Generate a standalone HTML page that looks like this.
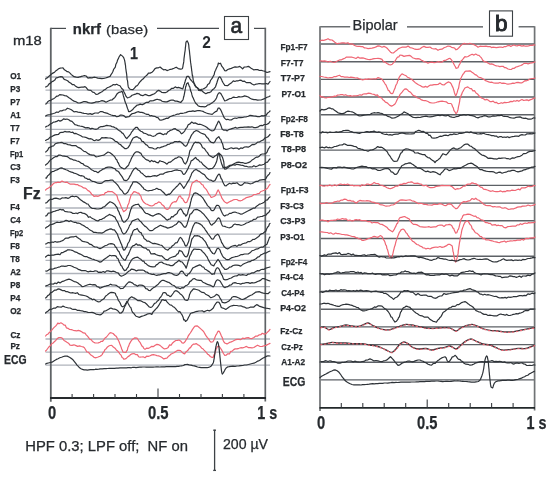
<!DOCTYPE html><html><head><meta charset="utf-8"><title>EEG</title><style>html,body{margin:0;padding:0;background:#fff}svg{display:block}text{font-family:"Liberation Sans",Arial,sans-serif;fill:#262a2e;stroke:#262a2e;stroke-width:0.25px}</style></head><body>
<svg width="550" height="480" viewBox="0 0 550 480">
<rect width="550" height="480" fill="#fff"/>
<g stroke="#afb3bb" stroke-width="1.3">
<line x1="45.5" y1="77.0" x2="270" y2="77.0"/>
<line x1="45.5" y1="90.1" x2="270" y2="90.1"/>
<line x1="45.5" y1="103.2" x2="270" y2="103.2"/>
<line x1="45.5" y1="116.3" x2="270" y2="116.3"/>
<line x1="45.5" y1="129.4" x2="270" y2="129.4"/>
<line x1="45.5" y1="142.5" x2="270" y2="142.5"/>
<line x1="45.5" y1="155.6" x2="270" y2="155.6"/>
<line x1="45.5" y1="168.7" x2="270" y2="168.7"/>
<line x1="45.5" y1="181.8" x2="270" y2="181.8"/>
<line x1="45.5" y1="194.9" x2="270" y2="194.9"/>
<line x1="45.5" y1="208.0" x2="270" y2="208.0"/>
<line x1="45.5" y1="221.1" x2="270" y2="221.1"/>
<line x1="45.5" y1="234.2" x2="270" y2="234.2"/>
<line x1="45.5" y1="247.3" x2="270" y2="247.3"/>
<line x1="45.5" y1="260.4" x2="270" y2="260.4"/>
<line x1="45.5" y1="273.5" x2="270" y2="273.5"/>
<line x1="45.5" y1="286.6" x2="270" y2="286.6"/>
<line x1="45.5" y1="299.7" x2="270" y2="299.7"/>
<line x1="45.5" y1="312.8" x2="270" y2="312.8"/>
<line x1="45.5" y1="339.0" x2="270" y2="339.0"/>
<line x1="45.5" y1="352.1" x2="270" y2="352.1"/>
<line x1="45.5" y1="365.2" x2="270" y2="365.2"/>
</g>
<g fill="none" stroke-linecap="butt">
<polyline points="66,28.4 50.8,28.4" stroke="#474b4f" stroke-width="1.2"/>
<line x1="157" y1="28.4" x2="219" y2="28.4" stroke="#474b4f" stroke-width="1.2"/>
<line x1="254" y1="28.4" x2="265.6" y2="28.4" stroke="#474b4f" stroke-width="1.2"/>
<line x1="50.8" y1="27.8" x2="50.8" y2="401.7" stroke="#5f6366" stroke-width="1.8"/>
<line x1="265.3" y1="27.8" x2="265.3" y2="401.5" stroke="#5f6366" stroke-width="1.7"/>
<line x1="50" y1="398" x2="266" y2="398" stroke="#262a2d" stroke-width="1.8"/>
<rect x="224.5" y="16.5" width="24" height="23" stroke="#3d4246" stroke-width="1.1"/>
<g stroke="#3a3e42" stroke-width="1.1">
<line x1="72.1" y1="394.0" x2="72.1" y2="398"/>
<line x1="93.6" y1="394.0" x2="93.6" y2="398"/>
<line x1="115.0" y1="394.0" x2="115.0" y2="398"/>
<line x1="136.5" y1="394.0" x2="136.5" y2="398"/>
<line x1="158.0" y1="388.5" x2="158.0" y2="398"/>
<line x1="179.5" y1="394.0" x2="179.5" y2="398"/>
<line x1="201.0" y1="394.0" x2="201.0" y2="398"/>
<line x1="222.4" y1="394.0" x2="222.4" y2="398"/>
<line x1="243.9" y1="394.0" x2="243.9" y2="398"/>
</g></g>
<text x="10.2" y="78.6" font-size="8.2" font-weight="bold">O1</text>
<text x="10.2" y="91.7" font-size="8.2" font-weight="bold">P3</text>
<text x="10.2" y="104.8" font-size="8.2" font-weight="bold">P7</text>
<text x="10.2" y="117.9" font-size="8.2" font-weight="bold">A1</text>
<text x="10.2" y="131.0" font-size="8.2" font-weight="bold">T7</text>
<text x="10.2" y="144.1" font-size="8.2" font-weight="bold">F7</text>
<text x="9.9" y="157.2" font-size="8.2" font-weight="bold" textLength="13.4" lengthAdjust="spacingAndGlyphs">Fp1</text>
<text x="10.2" y="170.3" font-size="8.2" font-weight="bold">C3</text>
<text x="10.2" y="183.4" font-size="8.2" font-weight="bold">F3</text>
<text x="10.2" y="209.6" font-size="8.2" font-weight="bold">F4</text>
<text x="10.2" y="222.7" font-size="8.2" font-weight="bold">C4</text>
<text x="9.9" y="235.8" font-size="8.2" font-weight="bold" textLength="13.4" lengthAdjust="spacingAndGlyphs">Fp2</text>
<text x="10.2" y="248.9" font-size="8.2" font-weight="bold">F8</text>
<text x="10.2" y="262.0" font-size="8.2" font-weight="bold">T8</text>
<text x="10.2" y="275.1" font-size="8.2" font-weight="bold">A2</text>
<text x="10.2" y="288.2" font-size="8.2" font-weight="bold">P8</text>
<text x="10.2" y="301.3" font-size="8.2" font-weight="bold">P4</text>
<text x="10.2" y="314.4" font-size="8.2" font-weight="bold">O2</text>
<text x="23" y="198.8" font-size="16" font-weight="bold" textLength="17.6" lengthAdjust="spacingAndGlyphs">Fz</text>
<text x="10.4" y="337.8" font-size="8.2" font-weight="bold">Cz</text>
<text x="10.4" y="349" font-size="8.2" font-weight="bold">Pz</text>
<text x="4.1" y="364.2" font-size="12.4" font-weight="bold" textLength="22.6" lengthAdjust="spacingAndGlyphs">ECG</text>
<text x="13" y="45.3" font-size="12.3" style="stroke-width:0.3px" textLength="28.8" lengthAdjust="spacingAndGlyphs">m18</text>
<text x="72.8" y="33.8" font-size="13.9" font-weight="bold" textLength="28.2" lengthAdjust="spacingAndGlyphs">nkrf</text>
<text x="106.1" y="33.7" font-size="13.6" textLength="42" lengthAdjust="spacingAndGlyphs">(base)</text>
<text x="230.4" y="33" font-size="22.5" style="stroke-width:0.7px" textLength="11.6" lengthAdjust="spacingAndGlyphs">a</text>
<text x="130" y="58.7" font-size="16.2" font-weight="bold" textLength="8" lengthAdjust="spacingAndGlyphs">1</text>
<text x="202.2" y="47.5" font-size="16" font-weight="bold" style="stroke-width:0" textLength="8.6" lengthAdjust="spacingAndGlyphs">2</text>
<text x="47.9" y="419.2" font-size="18" font-weight="bold" textLength="8.2" lengthAdjust="spacingAndGlyphs">0</text>
<text x="147.9" y="419.2" font-size="18" font-weight="bold" textLength="20.6" lengthAdjust="spacingAndGlyphs">0.5</text>
<text x="257.2" y="419.3" font-size="18" font-weight="bold" textLength="20" lengthAdjust="spacingAndGlyphs">1 s</text>
<text x="25.3" y="451" font-size="13.8" textLength="162.6" lengthAdjust="spacingAndGlyphs" xml:space="preserve">HPF 0.3; LPF off;  NF on</text>
<text x="223" y="449.2" font-size="14" textLength="45" lengthAdjust="spacingAndGlyphs">200 µV</text>
<g stroke="#3d4246" stroke-width="1.3"><line x1="214.6" y1="429.8" x2="214.6" y2="470.8"/><line x1="213.2" y1="430.2" x2="216" y2="430.2"/><line x1="213.2" y1="470.4" x2="216" y2="470.4"/></g>
<path d="M45.6 79.0 L46.4 78.2 L47.6 77.6 L49.0 76.2 L50.5 75.0 L52.0 73.6 L53.3 72.9 L54.6 72.2 L56.0 70.7 L57.4 69.8 L58.8 68.6 L60.0 68.2 L61.6 68.0 L63.0 67.9 L64.4 69.8 L66.0 70.8 L67.2 71.7 L68.6 71.9 L70.0 73.1 L71.4 74.6 L72.8 75.7 L74.0 76.7 L76.2 77.2 L78.2 77.4 L80.0 76.8 L82.3 76.2 L84.4 75.5 L86.1 76.0 L88.0 78.1 L89.8 77.7 L91.9 77.9 L94.0 77.2 L95.9 77.5 L97.8 78.1 L100.0 78.4 L101.7 78.6 L103.6 78.5 L105.5 78.0 L107.4 77.4 L109.0 76.8 L110.1 76.4 L111.2 74.3 L112.1 73.1 L112.9 71.5 L113.7 69.2 L114.4 68.4 L115.3 67.1 L115.9 64.2 L116.5 63.3 L117.0 62.0 L117.7 59.8 L118.4 58.6 L119.0 57.0 L120.6 54.6 L122.5 56.1 L123.5 57.3 L124.5 59.9 L124.8 61.3 L125.0 62.4 L125.2 64.0 L125.5 65.3 L125.7 68.0 L126.0 69.8 L126.2 71.3 L126.4 72.7 L126.7 74.7 L126.9 76.8 L127.1 79.4 L127.4 80.1 L127.7 82.1 L127.9 84.5 L128.2 86.4 L128.4 87.2 L129.6 89.0 L130.8 89.3 L133.0 89.6 L134.4 88.1 L136.2 86.0 L137.2 85.6 L138.3 84.3 L139.5 82.4 L140.8 81.0 L142.0 79.7 L143.3 78.8 L144.6 77.1 L146.0 75.9 L147.3 74.8 L148.4 73.1 L150.2 73.1 L152.0 72.2 L153.4 70.9 L155.0 68.6 L156.7 67.9 L158.4 67.8 L160.1 67.0 L161.8 68.5 L163.6 69.8 L165.3 69.5 L167.0 70.6 L168.7 70.0 L170.3 69.3 L171.8 69.1 L174.0 68.2 L176.2 67.2 L178.2 68.6 L180.3 69.2 L182.0 68.8 L182.5 68.4 L182.9 66.6 L183.2 64.5 L183.5 63.3 L183.8 61.4 L184.0 58.6 L184.3 56.3 L184.5 54.9 L184.7 53.2 L185.0 51.3 L185.2 50.0 L185.4 47.2 L185.6 46.3 L185.8 43.8 L185.9 42.6 L186.1 42.0 L187.1 40.8 L188.4 43.3 L188.6 44.3 L188.8 45.5 L188.9 47.1 L189.1 49.0 L189.4 50.6 L189.6 52.7 L189.8 54.7 L190.0 56.4 L190.2 58.6 L190.4 60.2 L190.6 62.4 L190.8 63.5 L191.0 65.0 L191.2 66.7 L191.5 68.6 L191.7 70.6 L191.9 71.7 L192.1 73.5 L192.3 75.4 L192.5 75.0 L192.9 77.7 L193.2 80.0 L193.5 81.5 L194.0 82.8 L194.5 83.8 L195.5 85.9 L196.6 87.3 L197.8 88.3 L198.7 90.4 L200.0 90.1 L201.3 89.4 L203.0 89.0 L204.9 88.1 L206.7 86.7 L207.7 84.5 L208.6 84.0 L209.6 83.0 L210.5 80.5 L211.5 79.2 L212.4 77.9 L213.3 76.1 L214.1 74.8 L214.8 71.7 L215.6 70.3 L216.3 68.4 L217.0 67.0 L217.7 65.7 L218.4 63.0 L219.0 63.7 L220.5 63.2 L221.9 66.4 L223.0 67.6 L224.8 70.7 L226.1 70.8 L227.8 69.5 L229.5 68.9 L231.3 68.4 L233.2 67.5 L235.0 66.9 L236.7 67.2 L238.4 66.9 L239.8 66.4 L242.6 68.8 L244.3 67.0 L246.3 67.0 L248.3 66.4 L249.7 67.1 L251.1 68.2 L252.5 69.1 L253.9 69.9 L255.8 69.5 L257.7 69.6 L259.5 70.5 L261.2 70.3 L262.8 70.8 L264.2 71.0 L267.0 72.5 L270.0 71.6" fill="none" stroke="#2e3338" stroke-width="1.2" stroke-linejoin="round" stroke-linecap="round"/>
<path d="M45.6 87.0 L46.5 86.6 L47.7 85.9 L49.1 83.9 L50.6 83.1 L52.0 81.6 L53.4 81.1 L54.8 80.1 L56.2 77.8 L57.6 77.7 L59.0 77.0 L60.7 76.7 L62.4 76.9 L64.2 79.4 L66.0 80.0 L67.6 80.7 L69.2 82.2 L70.9 83.3 L72.5 84.7 L74.0 84.6 L75.7 86.3 L77.2 87.1 L78.6 87.6 L80.0 87.3 L81.8 87.0 L83.5 87.1 L85.0 86.6 L86.4 87.8 L88.0 89.9 L89.3 90.2 L90.9 90.4 L92.6 92.1 L94.0 92.3 L96.0 94.3 L98.0 94.1 L99.4 93.1 L100.9 92.3 L102.5 91.4 L104.0 90.0 L105.5 89.4 L107.1 87.8 L108.6 87.2 L110.0 86.6 L111.7 85.8 L113.4 84.5 L115.0 84.9 L116.7 84.2 L118.5 85.2 L120.0 85.8 L121.7 88.5 L123.0 89.5 L124.0 92.0 L125.0 93.9 L126.1 96.4 L127.4 97.8 L128.7 97.5 L130.5 96.7 L132.0 95.3 L133.7 94.7 L135.5 94.2 L137.0 93.4 L139.0 93.8 L140.7 95.2 L142.8 95.7 L145.0 94.4 L146.6 94.9 L148.4 95.7 L150.0 95.6 L152.2 94.6 L154.4 93.8 L155.8 92.6 L157.1 91.1 L158.7 90.4 L160.2 91.1 L161.9 92.5 L163.6 92.6 L165.3 92.7 L166.9 92.0 L168.6 90.5 L170.2 89.7 L171.8 88.3 L173.5 88.3 L175.2 86.9 L176.9 87.8 L178.4 87.4 L180.7 88.1 L182.7 89.0 L183.2 87.6 L183.8 85.3 L184.4 83.9 L184.9 82.3 L185.5 80.0 L186.0 78.7 L186.5 77.2 L187.0 76.3 L188.6 76.4 L190.4 79.5 L191.4 80.5 L192.5 82.0 L193.6 82.7 L194.8 85.4 L195.8 86.9 L197.3 87.8 L198.7 88.9 L200.0 90.7 L201.7 90.5 L203.5 92.2 L205.8 93.7 L208.0 92.6 L209.5 92.6 L211.0 91.7 L212.4 89.8 L214.0 88.7 L215.5 86.8 L216.2 84.7 L216.8 83.0 L217.4 81.0 L218.0 79.3 L218.7 77.6 L219.4 76.9 L220.2 77.1 L221.2 78.7 L222.2 81.1 L223.1 82.8 L224.0 84.2 L224.8 85.3 L227.6 85.7 L229.3 84.3 L231.2 83.1 L233.3 80.9 L234.9 81.5 L236.6 80.8 L238.3 80.8 L239.8 80.2 L241.5 80.4 L242.9 81.4 L244.5 81.2 L246.3 82.6 L248.1 82.6 L250.0 82.5 L252.0 84.0 L254.0 85.0 L255.8 84.2 L257.7 83.9 L259.5 83.5 L261.8 83.8 L264.2 83.9 L266.3 83.5 L268.0 84.2 L270.0 81.5" fill="none" stroke="#2e3338" stroke-width="1.2" stroke-linejoin="round" stroke-linecap="round"/>
<path d="M45.6 104.0 L46.5 103.7 L47.7 101.8 L49.2 100.6 L50.6 100.6 L52.0 99.4 L53.6 98.8 L55.1 97.6 L56.6 96.2 L58.0 96.1 L59.7 94.6 L61.4 94.8 L63.0 95.0 L64.6 95.6 L66.3 95.8 L68.0 97.0 L69.4 98.1 L70.9 99.1 L72.5 100.3 L74.0 101.1 L76.0 101.8 L78.1 103.0 L80.0 103.0 L81.7 102.4 L83.4 101.7 L85.0 101.6 L86.6 101.9 L88.3 102.6 L90.0 103.0 L91.9 103.1 L94.0 102.7 L96.0 101.9 L98.1 101.9 L100.1 101.3 L102.0 100.6 L104.0 101.1 L106.0 102.2 L107.9 101.3 L110.1 100.2 L112.0 100.0 L113.5 98.5 L114.7 97.7 L116.0 95.6 L117.4 93.4 L118.8 92.4 L120.0 92.2 L122.0 91.4 L122.4 92.0 L122.9 93.7 L123.4 95.9 L124.0 97.8 L124.5 99.5 L125.0 101.6 L125.6 103.0 L126.3 104.5 L126.9 106.5 L127.5 108.4 L128.0 109.4 L128.6 111.6 L129.4 111.6 L130.8 111.1 L132.5 109.8 L134.0 107.9 L135.3 106.8 L137.0 105.2 L138.5 104.9 L140.3 104.1 L142.2 104.8 L144.0 103.9 L145.5 102.8 L146.9 102.2 L148.3 102.5 L150.0 100.9 L151.6 100.9 L153.4 100.6 L155.2 99.9 L157.1 99.2 L158.7 99.7 L160.5 100.1 L162.1 101.2 L163.7 101.7 L165.3 101.8 L166.9 101.9 L168.6 101.1 L170.2 100.4 L171.8 100.0 L173.5 100.2 L175.2 101.1 L176.9 101.1 L178.4 101.6 L180.7 102.5 L182.7 100.1 L183.1 99.5 L183.5 97.5 L183.9 96.3 L184.2 94.9 L184.6 92.9 L185.0 90.7 L185.4 88.7 L185.7 86.5 L186.1 86.1 L186.4 84.4 L186.7 83.7 L188.0 82.7 L189.3 86.4 L189.8 87.0 L190.3 89.5 L190.8 91.4 L191.3 92.1 L191.9 94.7 L192.5 96.8 L193.0 97.6 L193.6 98.9 L194.6 101.3 L195.7 103.2 L196.8 104.2 L198.0 105.7 L199.5 106.4 L201.1 106.7 L202.8 106.7 L204.5 106.8 L206.2 106.3 L207.9 104.9 L209.5 104.6 L211.0 103.6 L212.7 102.4 L214.1 101.3 L215.5 99.6 L216.5 98.0 L217.5 95.0 L218.5 93.2 L219.4 92.7 L220.7 93.4 L221.9 95.5 L223.0 97.5 L223.8 99.2 L224.8 100.9 L226.1 100.5 L227.8 99.6 L229.5 98.7 L231.3 98.5 L233.1 97.1 L235.0 97.4 L236.9 97.5 L238.9 96.6 L240.8 97.0 L242.7 96.7 L244.5 95.9 L246.4 96.4 L248.3 97.0 L250.1 98.3 L252.0 99.2 L253.9 99.6 L255.7 99.7 L257.6 100.1 L259.6 100.0 L261.5 99.8 L263.3 99.1 L265.3 98.2 L267.0 97.3 L268.7 96.7 L270.0 96.0" fill="none" stroke="#2e3338" stroke-width="1.2" stroke-linejoin="round" stroke-linecap="round"/>
<path d="M45.6 116.0 L46.7 115.4 L48.3 114.8 L50.1 114.6 L52.0 113.8 L53.5 113.5 L55.0 113.0 L56.7 112.0 L58.3 112.4 L60.0 110.9 L61.8 110.9 L63.7 110.0 L65.6 109.9 L67.4 108.2 L69.0 108.7 L70.9 109.5 L72.4 110.5 L74.0 111.9 L75.9 111.5 L78.0 112.1 L80.0 112.3 L82.0 112.9 L84.0 113.3 L86.0 113.5 L88.1 114.1 L90.2 113.6 L92.0 114.4 L95.0 113.0 L96.5 113.0 L98.3 113.1 L100.2 111.6 L102.0 111.5 L103.9 112.4 L105.6 112.8 L107.7 113.4 L109.3 114.3 L111.2 115.0 L113.2 115.6 L115.0 115.5 L116.6 116.7 L118.6 116.4 L120.1 115.2 L121.7 115.1 L123.6 115.5 L125.6 117.3 L127.5 116.9 L129.1 116.7 L130.5 115.0 L132.0 113.7 L133.6 113.4 L135.2 112.9 L137.0 112.0 L138.5 111.7 L140.2 112.4 L141.9 112.4 L143.4 112.8 L145.2 113.8 L146.8 114.4 L148.5 114.4 L150.0 115.9 L151.6 115.5 L153.2 116.2 L154.8 116.3 L156.4 117.3 L158.0 117.6 L159.6 119.8 L161.0 120.2 L163.0 119.6 L165.0 118.9 L166.5 118.2 L168.1 118.3 L169.9 116.7 L171.8 116.0 L173.4 115.4 L175.1 115.0 L176.9 114.2 L178.7 114.2 L180.5 113.3 L182.3 113.3 L184.0 113.0 L185.8 112.6 L187.5 111.9 L189.3 111.3 L191.1 111.3 L192.9 110.8 L194.7 111.3 L196.4 110.8 L198.0 110.5 L199.8 110.6 L201.4 111.0 L203.0 111.4 L204.5 112.2 L206.4 113.0 L208.3 113.7 L210.0 114.0 L212.2 114.4 L214.4 112.4 L215.6 111.6 L216.9 111.1 L218.2 108.1 L219.4 108.2 L220.4 109.4 L221.4 111.3 L222.3 113.5 L223.0 114.9 L223.8 117.1 L224.8 118.4 L226.1 119.6 L227.8 119.3 L229.5 120.0 L231.3 119.9 L233.1 118.7 L235.0 118.0 L236.9 118.3 L238.9 117.5 L240.8 117.7 L242.7 117.5 L244.5 117.0 L246.4 116.8 L248.3 116.2 L250.1 115.3 L252.0 115.6 L253.9 116.0 L255.7 116.1 L257.6 116.6 L259.6 116.7 L261.6 115.7 L263.3 115.8 L266.0 115.4 L267.4 113.3 L268.9 112.1 L270.0 111.0" fill="none" stroke="#2e3338" stroke-width="1.2" stroke-linejoin="round" stroke-linecap="round"/>
<path d="M45.6 127.0 L46.7 126.2 L48.3 125.7 L50.1 124.1 L52.0 123.3 L53.5 122.1 L55.1 121.9 L56.8 121.4 L58.4 120.3 L60.0 121.1 L61.9 120.4 L63.7 118.8 L65.4 119.3 L67.0 119.0 L68.8 119.8 L70.3 120.9 L72.0 121.4 L73.4 122.9 L74.9 124.7 L76.5 125.0 L78.0 125.6 L79.9 126.0 L81.9 126.3 L84.0 127.1 L85.6 127.9 L87.3 127.7 L89.1 127.9 L90.7 129.0 L92.0 128.2 L95.0 129.2 L96.2 129.3 L97.7 128.7 L99.3 127.3 L101.0 126.6 L102.6 126.6 L104.5 126.2 L106.4 125.4 L108.4 125.7 L110.3 125.8 L111.9 126.6 L113.5 126.9 L115.1 127.7 L116.6 128.4 L118.0 129.7 L119.5 130.9 L120.7 131.3 L121.9 132.9 L123.0 133.4 L124.4 135.5 L125.6 137.5 L126.8 138.6 L128.0 137.2 L129.2 135.8 L130.6 134.1 L131.5 132.2 L132.5 131.2 L133.6 129.4 L134.7 128.5 L135.7 127.3 L137.3 127.4 L138.9 129.7 L140.8 131.3 L142.2 131.8 L143.8 133.2 L145.5 133.5 L147.1 134.2 L148.5 135.2 L150.4 135.2 L151.9 136.0 L153.5 136.3 L155.1 135.8 L156.8 134.1 L158.6 133.4 L160.1 133.1 L161.7 133.9 L163.3 134.7 L165.0 133.7 L166.3 134.3 L167.7 132.1 L169.1 131.2 L170.4 130.3 L171.8 130.0 L173.5 128.9 L175.3 128.7 L176.9 130.1 L178.4 130.6 L180.0 131.7 L181.3 133.8 L182.7 133.1 L183.7 132.1 L184.8 130.8 L185.9 128.6 L187.1 127.3 L188.2 124.8 L190.0 123.9 L191.7 122.0 L193.6 123.3 L195.1 122.9 L196.7 123.6 L198.4 124.5 L200.0 124.2 L201.7 124.8 L203.3 125.5 L205.0 126.3 L206.7 127.3 L208.4 128.8 L210.1 129.9 L211.7 130.8 L213.3 130.6 L214.3 130.0 L215.3 128.1 L216.2 125.8 L217.1 124.1 L217.9 122.2 L218.7 121.1 L219.7 122.8 L220.5 124.5 L221.2 126.4 L222.0 128.9 L223.8 130.2 L225.8 130.0 L227.2 130.9 L228.7 129.6 L230.4 129.1 L231.9 128.6 L233.6 128.2 L235.4 127.4 L237.0 128.2 L238.9 127.6 L240.8 127.3 L242.6 127.4 L244.5 127.1 L246.4 127.2 L248.3 126.8 L250.2 127.2 L252.0 126.8 L253.9 127.6 L255.8 127.6 L257.7 127.2 L259.5 125.9 L261.2 125.4 L262.8 125.6 L264.2 124.5 L267.0 124.3 L268.7 123.4 L270.0 121.5" fill="none" stroke="#2e3338" stroke-width="1.2" stroke-linejoin="round" stroke-linecap="round"/>
<path d="M45.6 140.4 L46.7 139.7 L48.3 139.1 L50.1 137.2 L52.0 136.5 L53.5 135.6 L55.1 134.9 L56.7 134.6 L58.4 134.5 L60.0 132.7 L61.6 132.3 L63.2 132.3 L64.8 131.4 L66.4 131.8 L68.0 131.8 L69.6 131.7 L71.2 132.5 L72.8 132.2 L74.4 133.7 L76.0 133.4 L77.6 134.3 L79.2 135.0 L80.8 135.7 L82.4 136.8 L84.0 137.0 L85.7 137.3 L87.4 138.1 L89.2 138.9 L90.7 138.7 L92.0 139.1 L93.7 140.5 L95.0 140.6 L96.4 139.7 L98.1 140.4 L100.0 139.6 L101.8 137.6 L103.8 137.9 L105.8 137.7 L107.7 137.9 L109.4 138.0 L110.9 138.2 L112.4 138.7 L114.0 140.0 L115.3 141.3 L116.6 141.5 L117.9 142.7 L119.2 144.2 L120.5 144.5 L122.0 146.3 L123.6 147.5 L125.0 148.7 L126.2 148.7 L127.9 147.8 L129.4 145.7 L130.1 144.3 L130.9 142.3 L131.7 140.6 L132.5 139.1 L133.2 138.0 L135.7 136.9 L137.0 136.6 L138.5 137.8 L140.2 138.3 L142.0 141.4 L143.2 141.5 L144.5 143.1 L145.8 144.6 L147.2 145.2 L148.5 147.0 L149.7 147.7 L151.9 147.8 L153.9 148.8 L156.0 149.0 L157.7 147.5 L159.5 148.0 L161.3 147.1 L163.0 146.6 L164.6 146.0 L166.1 145.6 L167.7 144.4 L169.6 144.1 L171.1 143.1 L172.8 142.9 L174.5 141.7 L176.3 141.5 L177.9 141.9 L179.4 141.4 L181.2 142.2 L182.8 143.7 L184.3 145.5 L185.6 146.3 L186.6 145.8 L187.5 144.0 L188.4 142.0 L189.2 139.7 L190.0 138.5 L191.0 136.1 L192.0 134.3 L192.9 133.4 L193.8 131.9 L196.2 130.5 L198.0 131.1 L200.0 132.4 L201.5 133.3 L203.2 133.9 L205.0 134.5 L206.0 136.2 L207.1 137.5 L208.3 138.5 L209.4 140.7 L210.4 141.5 L211.2 142.4 L213.8 142.8 L214.9 141.7 L216.2 139.0 L217.5 137.7 L218.8 136.6 L219.8 138.6 L220.8 139.4 L221.7 142.3 L222.5 143.5 L223.2 146.3 L223.7 148.9 L224.4 148.5 L225.8 149.5 L227.6 149.2 L229.3 148.5 L231.3 147.8 L233.3 148.6 L235.2 148.1 L237.0 148.1 L238.9 149.3 L240.8 147.9 L242.6 148.3 L244.5 147.0 L246.3 146.9 L248.2 147.2 L250.0 146.3 L251.4 145.1 L252.9 144.3 L254.3 144.6 L255.8 143.7 L257.7 142.1 L259.7 141.8 L261.4 140.8 L263.4 139.9 L265.0 137.9 L266.6 137.5 L268.0 136.8 L270.0 134.5" fill="none" stroke="#2e3338" stroke-width="1.2" stroke-linejoin="round" stroke-linecap="round"/>
<path d="M45.6 152.0 L46.4 151.4 L47.6 150.3 L49.0 147.6 L50.5 147.2 L52.0 146.2 L53.5 146.0 L55.2 143.8 L56.9 143.2 L58.5 142.8 L60.0 142.7 L62.1 142.4 L64.1 143.7 L66.0 143.7 L68.0 144.6 L70.0 144.9 L72.0 145.7 L74.0 145.7 L76.0 145.7 L78.0 147.4 L79.5 147.9 L81.0 148.7 L82.5 150.1 L84.0 151.4 L85.5 151.6 L87.0 152.8 L88.5 153.9 L90.0 154.6 L92.1 155.1 L94.1 155.2 L96.0 156.9 L98.1 156.5 L100.0 156.0 L102.0 155.5 L104.0 155.1 L106.0 153.4 L108.0 152.0 L110.0 152.7 L112.0 154.2 L113.3 155.4 L114.7 156.8 L116.0 159.2 L116.8 159.8 L117.6 162.1 L118.4 163.0 L119.2 165.0 L120.0 166.5 L121.3 167.6 L122.7 168.3 L124.0 169.0 L125.3 168.7 L126.7 167.0 L128.0 165.8 L128.7 164.9 L129.3 163.1 L130.0 161.7 L130.7 160.2 L131.3 158.6 L132.0 157.3 L133.0 155.6 L134.0 153.8 L135.0 152.7 L136.0 151.9 L138.0 151.8 L140.0 152.9 L141.0 153.4 L141.9 155.2 L142.9 156.8 L144.0 157.6 L145.3 158.9 L146.8 159.9 L148.4 160.4 L150.0 161.8 L151.6 160.4 L153.2 161.6 L154.9 161.2 L156.5 162.4 L158.2 162.9 L159.9 160.7 L161.6 161.5 L163.0 161.7 L165.1 162.8 L167.0 164.2 L168.6 162.4 L170.3 162.2 L172.3 160.6 L173.7 159.6 L175.3 158.3 L177.0 157.8 L178.6 156.8 L180.0 157.0 L181.3 157.7 L182.4 159.0 L183.5 161.9 L184.6 163.5 L185.6 164.0 L186.2 162.7 L186.8 161.9 L187.4 160.5 L187.9 158.5 L188.5 156.9 L189.0 155.2 L189.5 152.4 L190.0 150.5 L190.8 149.7 L191.6 148.2 L192.3 146.4 L193.0 145.1 L193.8 143.5 L195.3 142.1 L196.9 142.6 L198.2 142.4 L199.7 143.0 L201.2 144.6 L202.2 147.0 L203.2 148.0 L204.2 148.4 L205.2 149.7 L206.2 151.3 L207.5 152.6 L208.8 155.0 L210.1 155.9 L211.2 156.5 L213.2 157.6 L215.0 156.0 L216.3 155.3 L217.6 153.9 L218.8 153.0 L221.2 155.1 L221.9 156.2 L222.6 157.8 L223.2 159.7 L223.8 162.0 L224.0 164.1 L224.1 166.3 L224.3 168.0 L224.8 169.2 L226.1 169.0 L227.7 167.8 L229.5 166.6 L230.8 165.2 L232.2 164.8 L233.6 164.0 L235.0 163.2 L236.9 162.4 L238.8 162.2 L240.8 162.6 L242.6 162.5 L244.5 163.3 L246.4 163.3 L248.3 162.6 L250.1 161.9 L252.0 160.1 L253.4 159.3 L254.9 158.1 L256.3 157.2 L257.6 157.2 L259.3 156.2 L260.8 154.5 L262.3 154.0 L264.2 154.0 L266.0 153.3 L267.1 152.1 L268.2 149.2 L269.3 147.6 L270.0 146.5" fill="none" stroke="#2e3338" stroke-width="1.2" stroke-linejoin="round" stroke-linecap="round"/>
<path d="M45.6 165.0 L46.4 164.3 L47.6 163.5 L49.0 161.6 L50.5 159.8 L52.0 158.9 L53.5 157.7 L55.2 156.7 L56.9 156.7 L58.5 155.2 L60.0 155.0 L62.1 155.8 L64.1 156.1 L66.0 156.5 L67.5 156.7 L68.9 157.8 L70.4 158.9 L72.0 159.2 L73.5 160.1 L75.2 160.2 L77.0 161.0 L78.6 161.3 L80.0 162.2 L81.6 163.5 L82.7 163.5 L84.0 165.0 L85.4 165.8 L86.9 166.2 L88.5 167.1 L90.0 168.3 L91.5 169.8 L93.1 170.5 L94.6 171.5 L96.0 171.4 L98.0 172.7 L100.0 171.0 L101.4 170.3 L103.0 169.1 L104.6 168.6 L106.0 167.6 L108.1 167.2 L110.0 167.2 L111.6 167.3 L113.3 168.1 L115.0 168.7 L116.3 170.6 L117.6 171.0 L118.8 171.9 L120.0 173.9 L121.1 175.3 L122.2 176.9 L123.2 178.7 L124.0 180.1 L126.0 180.6 L126.9 180.2 L127.9 179.5 L129.0 177.8 L130.0 175.9 L130.8 174.6 L131.6 172.9 L132.4 171.3 L133.2 170.2 L134.0 169.0 L135.9 167.8 L138.0 170.0 L139.4 170.7 L140.9 172.7 L142.5 173.6 L144.0 175.1 L146.0 176.8 L148.0 176.3 L150.0 176.6 L151.6 176.4 L153.2 175.8 L154.9 175.7 L156.5 176.1 L158.1 175.4 L159.7 174.4 L161.3 174.0 L163.0 174.2 L164.6 173.0 L166.3 172.3 L168.0 171.8 L170.0 171.5 L171.6 171.4 L173.3 170.7 L175.2 170.1 L177.0 169.9 L178.7 170.5 L180.0 170.5 L181.7 171.3 L182.7 173.6 L183.8 174.5 L185.0 173.8 L186.2 171.9 L187.5 169.5 L188.2 168.2 L189.0 166.0 L189.7 165.0 L190.5 162.9 L191.2 160.8 L192.7 160.1 L194.1 158.8 L195.6 157.4 L197.0 159.3 L198.5 160.1 L200.0 162.0 L201.2 162.0 L202.5 164.0 L203.8 165.3 L205.0 166.3 L207.0 167.9 L208.8 169.2 L210.6 168.7 L212.5 168.3 L213.5 167.2 L214.5 166.0 L215.4 164.2 L216.2 162.6 L216.7 161.0 L217.2 159.0 L217.6 156.7 L218.0 155.0 L218.4 154.1 L218.8 153.4 L219.2 153.7 L219.7 155.4 L220.1 158.4 L220.6 159.8 L221.2 162.3 L221.9 164.6 L222.5 166.0 L223.1 167.8 L224.8 167.1 L226.1 167.5 L227.8 166.6 L229.5 165.4 L231.3 165.7 L233.1 164.6 L235.0 165.1 L236.9 164.3 L238.8 164.7 L240.8 165.1 L242.6 165.3 L244.5 166.1 L246.4 166.3 L248.3 167.0 L250.1 166.9 L252.0 167.0 L253.9 165.7 L255.8 166.8 L257.6 166.0 L259.3 164.9 L260.8 165.2 L262.3 164.8 L264.2 164.2 L266.0 162.3 L267.5 162.1 L269.0 160.0 L270.0 159.0" fill="none" stroke="#2e3338" stroke-width="1.2" stroke-linejoin="round" stroke-linecap="round"/>
<path d="M45.6 178.0 L46.4 178.1 L47.6 175.9 L49.0 174.8 L50.5 173.0 L52.0 171.6 L53.5 171.5 L55.2 170.5 L56.9 169.9 L58.5 169.1 L60.0 168.2 L62.1 167.9 L63.9 168.9 L66.0 169.7 L67.5 170.2 L69.1 171.3 L70.7 171.9 L72.4 172.3 L74.0 173.1 L75.6 173.5 L77.3 174.3 L78.9 175.1 L80.5 175.8 L82.0 175.7 L83.6 176.2 L85.1 178.0 L86.5 178.3 L88.0 179.4 L89.5 179.2 L91.0 180.5 L92.5 181.4 L94.0 181.5 L96.0 182.4 L98.0 183.2 L100.0 183.4 L102.0 183.1 L104.1 181.4 L106.0 180.5 L107.7 180.6 L109.4 180.4 L111.0 180.1 L112.7 180.1 L114.3 181.9 L116.0 183.3 L117.0 184.4 L118.0 185.5 L119.1 187.3 L120.1 189.0 L121.0 189.8 L122.4 191.2 L123.7 193.5 L125.0 194.2 L126.3 193.4 L127.7 192.3 L129.0 189.8 L129.8 188.5 L130.6 186.6 L131.5 185.1 L132.3 183.8 L133.0 181.9 L136.0 181.8 L137.4 182.4 L139.0 183.5 L140.6 184.9 L142.0 186.7 L143.1 187.5 L143.8 188.9 L145.0 189.6 L146.4 190.5 L148.2 190.9 L150.0 190.5 L151.8 190.4 L153.5 189.8 L155.1 189.3 L156.8 188.3 L158.6 189.4 L159.9 189.5 L161.3 190.3 L162.7 191.8 L164.1 193.0 L165.4 194.6 L166.6 195.2 L168.1 194.2 L169.5 194.3 L170.8 193.1 L172.3 191.2 L173.5 189.7 L174.9 188.4 L176.3 186.8 L177.7 185.7 L178.9 184.2 L180.0 183.0 L181.5 184.9 L182.6 186.5 L183.8 188.4 L184.7 186.8 L185.7 185.5 L186.8 183.5 L187.8 181.6 L188.8 180.5 L189.6 178.7 L190.3 177.0 L191.1 175.3 L191.8 173.1 L192.5 172.3 L194.3 170.2 L196.2 169.4 L197.8 170.6 L199.5 171.4 L201.2 172.8 L202.9 173.9 L204.6 174.8 L206.2 177.1 L207.5 178.6 L208.8 179.5 L210.1 180.2 L211.2 180.2 L213.2 181.4 L215.0 180.5 L216.0 178.6 L216.9 176.8 L217.9 175.1 L218.8 174.2 L219.6 174.3 L220.4 176.5 L221.1 178.5 L221.9 179.4 L222.8 182.0 L223.7 183.7 L224.8 185.6 L226.2 185.8 L227.8 184.4 L229.5 183.3 L231.3 184.0 L233.1 183.1 L235.0 183.4 L237.0 182.8 L239.0 184.6 L240.8 185.5 L242.6 184.6 L244.5 182.7 L246.2 183.0 L248.1 183.2 L250.0 183.8 L251.9 183.5 L253.8 182.6 L255.8 181.4 L257.7 181.4 L259.7 180.1 L261.4 179.8 L263.2 179.7 L265.0 179.6 L266.0 178.4 L267.1 176.3 L268.3 175.0 L269.3 174.1 L270.0 172.5" fill="none" stroke="#2e3338" stroke-width="1.2" stroke-linejoin="round" stroke-linecap="round"/>
<path d="M45.6 190.0 L46.5 189.1 L47.7 188.4 L49.2 187.5 L50.6 186.4 L52.0 185.2 L53.5 183.5 L55.0 182.7 L56.5 182.6 L58.0 182.1 L60.0 182.5 L62.0 181.1 L64.0 182.0 L65.5 182.3 L67.0 182.1 L68.5 183.2 L70.0 184.1 L72.0 184.0 L74.0 184.1 L76.0 184.6 L77.5 184.6 L79.0 185.7 L80.5 186.0 L82.0 186.8 L83.5 187.9 L85.0 188.1 L86.5 189.1 L88.0 190.6 L89.2 191.1 L90.4 192.4 L91.6 194.2 L92.8 195.0 L94.0 196.4 L96.1 195.9 L98.1 196.3 L100.0 195.4 L102.1 194.7 L104.0 194.7 L105.3 192.6 L106.7 192.4 L108.0 191.3 L110.0 191.7 L112.0 191.6 L114.0 192.9 L116.0 194.6 L116.7 195.2 L117.3 196.8 L118.0 199.6 L118.7 200.7 L119.4 202.3 L120.0 203.8 L121.0 206.3 L121.9 208.3 L122.8 210.0 L123.6 211.7 L126.0 209.9 L126.6 209.0 L127.2 207.9 L127.8 205.2 L128.4 204.1 L129.0 202.7 L129.6 199.8 L130.2 198.1 L130.7 196.4 L131.3 194.5 L132.0 194.2 L133.9 191.6 L136.0 192.2 L137.4 193.1 L138.7 193.2 L140.0 195.2 L140.9 196.1 L141.6 198.9 L142.4 200.1 L143.3 201.7 L144.7 203.0 L146.1 204.0 L147.6 204.4 L149.9 205.7 L152.0 206.0 L153.6 205.3 L155.3 203.6 L156.9 203.3 L158.7 201.9 L160.7 202.7 L161.8 204.5 L162.9 205.2 L164.1 206.3 L165.2 208.4 L166.3 209.1 L167.3 209.4 L168.5 209.0 L169.6 207.6 L170.6 205.3 L171.6 203.5 L173.1 202.2 L174.5 201.7 L176.0 201.8 L177.1 200.1 L178.1 197.9 L179.2 196.1 L180.4 195.9 L181.4 198.1 L182.6 198.4 L183.7 200.7 L184.8 202.3 L185.8 202.8 L186.8 202.2 L187.7 200.2 L188.4 198.2 L189.1 197.0 L189.5 194.5 L189.9 193.1 L190.3 190.1 L190.6 188.6 L190.9 187.0 L191.3 185.9 L192.3 182.8 L193.5 182.4 L195.0 181.1 L196.7 180.2 L197.9 181.2 L199.2 181.6 L200.7 183.1 L201.7 184.5 L202.9 184.8 L204.0 187.2 L205.2 188.4 L206.4 189.6 L207.6 191.7 L208.7 193.9 L209.9 195.3 L211.0 197.3 L212.0 197.3 L213.9 196.5 L215.5 195.4 L216.5 193.2 L217.3 191.4 L218.2 189.9 L218.9 191.2 L219.6 192.5 L220.3 194.5 L221.1 196.0 L221.9 198.2 L222.8 199.4 L223.8 201.0 L224.8 201.9 L227.0 203.3 L229.5 201.8 L231.3 200.9 L233.1 199.9 L235.0 199.5 L236.9 199.5 L238.8 200.7 L240.8 200.8 L242.2 200.3 L243.6 199.2 L245.0 198.6 L246.4 197.6 L248.3 197.1 L250.1 196.7 L252.0 196.1 L253.9 194.5 L255.8 194.5 L257.6 193.7 L259.3 193.4 L260.8 191.5 L262.3 191.0 L264.2 190.3 L266.0 189.3 L267.5 188.2 L269.0 185.7 L270.0 184.5" fill="none" stroke="#ef6674" stroke-width="1.2" stroke-linejoin="round" stroke-linecap="round"/>
<path d="M45.6 203.0 L46.8 202.6 L48.6 200.5 L50.4 199.2 L52.0 199.5 L54.1 198.4 L56.0 198.2 L58.0 198.6 L60.0 199.2 L62.0 197.9 L64.0 198.0 L65.8 197.6 L68.0 198.4 L69.4 197.7 L71.0 196.5 L72.8 196.2 L74.5 196.8 L76.0 196.3 L77.6 197.0 L79.1 198.5 L80.5 199.7 L82.0 200.8 L83.5 201.9 L85.1 202.6 L86.6 203.8 L88.0 204.0 L89.3 206.0 L90.4 207.2 L92.0 208.3 L93.4 208.5 L95.0 208.6 L96.8 209.0 L98.5 209.0 L100.0 208.7 L101.7 208.3 L103.2 207.0 L104.7 206.7 L106.0 205.2 L108.1 203.2 L110.0 201.7 L111.9 202.5 L114.0 203.8 L114.9 204.7 L115.9 206.2 L117.0 207.5 L118.0 210.4 L119.0 212.0 L119.8 214.7 L120.6 215.7 L121.3 217.7 L122.1 220.2 L122.8 221.2 L123.6 222.1 L125.1 221.8 L126.6 220.1 L128.0 218.6 L128.6 217.1 L129.1 215.8 L129.7 213.2 L130.2 211.5 L130.8 209.4 L131.4 208.6 L132.0 206.5 L133.7 205.4 L135.4 204.7 L137.0 204.5 L138.5 204.2 L140.0 206.6 L141.0 207.1 L142.0 208.5 L143.1 209.8 L144.4 212.0 L145.9 213.4 L147.7 213.7 L149.4 214.6 L150.9 215.4 L153.1 216.1 L155.3 214.8 L156.8 214.1 L158.5 213.6 L160.2 214.1 L161.8 215.4 L163.3 216.8 L164.7 217.8 L166.0 219.3 L167.3 220.2 L168.8 219.2 L170.2 218.8 L171.6 216.7 L173.1 216.8 L174.5 215.2 L176.0 214.4 L177.1 213.5 L178.1 211.1 L179.2 209.9 L180.4 208.9 L181.4 209.2 L182.6 211.5 L183.7 213.6 L184.8 214.1 L185.8 216.2 L186.8 215.0 L187.6 213.4 L188.3 210.1 L189.1 208.1 L189.6 206.7 L190.0 205.5 L190.5 202.6 L191.0 200.9 L191.5 198.6 L191.9 197.6 L192.4 196.5 L194.0 193.3 L195.6 192.9 L197.3 193.5 L198.9 194.8 L200.2 195.4 L201.8 196.9 L202.6 197.6 L203.5 199.0 L204.5 200.6 L205.5 202.4 L206.5 203.7 L207.5 205.6 L208.7 206.6 L209.8 207.6 L211.0 209.9 L212.1 210.7 L213.2 210.7 L214.4 209.5 L215.5 207.0 L216.6 205.3 L217.7 205.3 L218.6 205.5 L219.6 207.0 L220.6 209.6 L221.5 211.6 L222.3 213.2 L223.5 215.2 L224.8 216.1 L226.2 215.0 L227.8 214.9 L229.5 213.4 L231.3 213.3 L233.1 212.3 L235.0 212.0 L236.9 212.7 L238.8 213.3 L240.8 214.2 L242.6 213.8 L244.5 212.8 L246.4 211.7 L248.3 210.8 L250.1 209.9 L252.0 208.9 L253.4 208.1 L254.9 208.2 L256.3 206.4 L257.6 205.6 L259.3 204.2 L260.8 203.8 L262.3 203.3 L264.2 202.2 L266.0 200.2 L267.5 199.9 L269.0 197.7 L270.0 196.9" fill="none" stroke="#2e3338" stroke-width="1.2" stroke-linejoin="round" stroke-linecap="round"/>
<path d="M45.6 216.0 L46.7 215.6 L48.3 213.2 L50.1 213.0 L52.0 212.1 L53.5 211.5 L55.1 211.1 L56.7 210.5 L58.4 210.2 L60.0 209.3 L61.6 209.9 L63.2 209.7 L64.8 211.3 L66.4 211.7 L68.0 211.9 L69.6 212.0 L71.2 212.3 L72.8 213.4 L74.4 213.5 L76.0 213.0 L77.6 213.6 L79.3 212.5 L80.9 212.4 L82.5 213.1 L84.0 213.3 L85.6 214.1 L87.1 215.2 L88.5 217.3 L90.0 216.7 L91.5 217.9 L93.1 218.8 L94.6 219.5 L96.0 220.4 L98.0 221.0 L100.0 219.5 L101.4 219.5 L102.9 218.5 L104.5 217.9 L106.0 216.4 L107.8 215.4 L109.4 214.4 L111.0 215.2 L112.4 215.5 L113.6 216.4 L115.0 217.1 L115.8 219.0 L116.6 220.3 L117.5 221.7 L118.4 223.6 L119.2 225.8 L120.0 227.2 L121.0 229.1 L121.8 231.5 L122.6 232.8 L123.5 234.0 L124.8 233.7 L126.1 232.4 L127.3 230.3 L128.2 228.7 L129.0 226.9 L129.8 224.9 L130.5 224.5 L131.6 222.0 L132.7 220.7 L134.4 220.1 L136.5 219.3 L138.1 218.8 L139.8 220.9 L141.5 222.3 L142.6 223.9 L143.6 224.9 L144.7 226.1 L145.8 226.6 L147.1 227.9 L148.6 229.6 L150.0 230.7 L151.3 230.6 L152.7 230.4 L154.1 229.1 L155.6 228.0 L157.1 227.3 L158.7 226.3 L160.4 225.2 L162.0 225.9 L163.9 226.6 L165.7 227.1 L167.7 228.1 L169.4 227.7 L171.1 227.2 L172.9 226.4 L174.5 225.1 L176.0 224.5 L177.3 223.2 L178.6 221.3 L180.0 222.0 L181.4 223.2 L182.9 225.3 L184.3 227.2 L185.6 227.2 L186.3 225.9 L187.0 224.4 L187.6 222.4 L188.2 220.6 L188.8 218.4 L189.4 216.7 L190.0 214.2 L191.3 213.6 L192.6 212.0 L193.8 210.0 L196.2 209.3 L197.7 209.7 L199.4 210.6 L201.2 211.8 L202.4 213.0 L203.7 214.1 L205.1 215.9 L206.3 217.3 L207.5 218.9 L208.7 220.3 L209.7 222.7 L210.7 224.4 L211.9 225.2 L212.9 224.0 L214.1 223.3 L215.4 221.8 L216.6 220.0 L217.8 218.4 L218.8 217.9 L219.7 218.8 L220.5 220.9 L221.3 223.4 L221.9 224.8 L222.5 226.0 L224.8 226.4 L226.2 227.0 L227.8 227.5 L229.5 227.8 L230.8 227.4 L232.2 226.6 L233.6 224.7 L235.0 224.0 L236.9 224.7 L238.8 224.6 L240.8 225.3 L242.6 225.0 L244.5 224.2 L246.4 223.0 L248.3 222.5 L250.1 221.4 L252.0 220.7 L253.9 219.3 L255.8 219.1 L257.6 217.2 L259.3 217.0 L260.8 216.5 L262.3 216.4 L264.2 215.5 L266.0 215.2 L267.1 213.7 L268.2 212.7 L269.3 211.7 L270.0 210.0" fill="none" stroke="#2e3338" stroke-width="1.2" stroke-linejoin="round" stroke-linecap="round"/>
<path d="M45.6 228.0 L46.7 227.1 L48.3 226.3 L50.1 224.6 L52.0 224.4 L53.5 223.9 L55.2 223.0 L56.9 222.2 L58.5 222.5 L60.0 222.4 L62.1 221.9 L63.9 221.5 L66.0 220.3 L67.5 220.7 L69.2 221.6 L70.8 220.7 L72.5 221.8 L74.0 222.3 L75.6 222.3 L77.1 223.1 L78.5 223.2 L80.0 223.5 L81.5 224.6 L83.0 225.3 L84.5 226.1 L86.0 227.3 L87.5 227.9 L88.9 229.1 L90.4 230.3 L92.0 231.0 L93.5 232.3 L95.2 232.3 L96.8 232.6 L98.5 232.8 L100.0 232.8 L102.2 233.1 L104.1 231.9 L106.0 230.6 L107.7 229.9 L109.4 229.2 L111.0 228.8 L112.7 229.8 L114.4 229.9 L116.0 232.2 L116.7 233.2 L117.4 234.1 L118.1 236.2 L118.7 237.8 L119.4 239.6 L120.0 240.8 L120.8 243.1 L121.6 244.5 L122.3 246.8 L123.1 249.1 L123.8 250.2 L124.9 249.6 L125.9 247.8 L127.0 246.4 L127.7 243.8 L128.4 242.7 L129.2 241.5 L129.9 239.8 L130.5 237.6 L131.2 235.5 L131.8 235.0 L132.4 232.9 L133.0 231.2 L134.4 229.7 L136.0 229.3 L137.3 228.5 L138.6 231.0 L140.0 232.3 L141.1 232.6 L142.2 235.4 L143.2 236.1 L144.0 238.4 L145.5 239.4 L147.0 241.1 L148.9 241.2 L150.9 242.5 L152.7 243.6 L154.6 243.4 L156.4 243.8 L158.2 244.4 L160.1 245.0 L161.8 245.3 L163.4 247.2 L164.9 248.7 L166.2 249.5 L167.9 250.1 L169.5 248.4 L170.9 247.8 L172.4 245.7 L173.8 244.9 L175.5 242.9 L177.1 242.6 L178.2 240.7 L179.3 238.4 L180.4 237.3 L181.8 238.7 L183.1 241.1 L184.0 242.4 L184.9 245.0 L185.8 246.1 L186.9 245.6 L188.0 243.1 L188.4 242.1 L188.9 240.6 L189.3 238.3 L189.8 236.3 L190.2 235.3 L190.7 233.4 L191.3 231.7 L191.8 230.2 L192.4 228.2 L193.1 226.2 L193.9 224.7 L195.0 222.8 L196.7 222.7 L198.7 223.4 L200.7 224.4 L201.8 225.2 L203.0 226.9 L204.1 227.9 L205.3 229.8 L206.4 231.4 L207.3 232.7 L208.3 234.3 L209.2 235.3 L210.1 236.7 L211.1 238.1 L212.0 239.2 L213.4 239.0 L214.9 236.2 L216.3 235.1 L217.7 234.2 L218.6 235.0 L219.4 236.6 L220.2 238.8 L221.0 240.6 L221.7 242.7 L222.3 243.2 L223.7 246.0 L224.8 247.3 L226.0 248.2 L227.6 248.9 L229.3 247.9 L231.3 246.5 L233.3 245.8 L235.2 245.3 L237.0 246.4 L238.9 244.8 L240.8 245.1 L242.6 243.8 L244.5 243.2 L246.3 242.8 L248.2 241.6 L250.0 241.6 L251.4 240.8 L252.9 239.4 L254.3 239.5 L255.8 238.6 L257.2 237.5 L258.7 236.6 L260.1 234.6 L261.4 233.9 L263.2 233.3 L265.0 231.6 L265.8 231.2 L266.7 228.7 L267.7 227.0 L268.7 226.0 L269.4 224.0 L270.0 223.4" fill="none" stroke="#2e3338" stroke-width="1.2" stroke-linejoin="round" stroke-linecap="round"/>
<path d="M45.6 244.0 L46.7 243.6 L48.3 242.6 L50.1 242.8 L52.0 242.0 L53.5 242.3 L55.2 241.5 L56.9 242.2 L58.5 241.8 L60.0 241.6 L61.6 241.0 L63.1 240.4 L64.5 239.1 L66.0 238.0 L68.1 238.2 L70.1 237.1 L72.0 236.8 L74.0 236.8 L76.0 236.2 L77.4 237.5 L78.9 238.6 L80.5 239.6 L82.0 241.1 L84.0 241.7 L85.9 242.0 L88.0 242.6 L89.7 244.2 L91.6 244.7 L93.4 246.2 L95.0 247.0 L96.8 247.0 L98.4 248.0 L100.0 248.6 L101.6 248.0 L103.1 246.9 L105.0 245.8 L106.8 245.2 L108.9 244.0 L110.9 243.6 L112.5 243.9 L114.2 244.5 L115.6 247.2 L116.4 247.4 L117.3 249.7 L118.2 251.0 L119.1 251.8 L120.0 254.4 L121.0 255.9 L121.9 257.6 L122.9 258.7 L123.8 259.7 L125.0 260.3 L126.3 258.3 L127.5 255.5 L128.2 255.0 L129.0 253.0 L129.7 251.4 L130.5 249.4 L131.3 247.7 L132.8 245.8 L134.5 245.3 L136.3 243.8 L137.8 245.2 L139.3 244.9 L140.9 245.5 L142.5 247.1 L144.2 247.9 L145.9 248.2 L147.5 249.9 L148.8 249.8 L149.9 251.8 L150.9 253.8 L152.5 253.8 L154.4 253.6 L156.4 254.7 L158.2 255.4 L160.1 255.8 L161.8 255.9 L163.4 257.5 L164.9 258.9 L166.2 259.7 L167.9 259.8 L169.5 258.2 L171.7 257.3 L173.8 256.6 L175.5 256.1 L177.1 254.1 L178.2 253.6 L179.3 250.4 L180.4 250.9 L181.8 251.3 L183.1 253.6 L184.5 255.9 L185.8 256.8 L186.9 256.6 L188.0 254.6 L188.4 253.3 L188.9 251.0 L189.3 249.0 L189.8 246.7 L190.2 246.7 L190.8 243.5 L191.3 241.4 L191.9 239.0 L192.4 238.5 L194.5 235.7 L195.9 235.8 L197.8 235.7 L199.1 236.1 L200.7 237.3 L202.3 238.0 L204.0 240.1 L204.9 241.1 L205.8 242.3 L206.7 244.4 L207.6 246.0 L208.5 248.2 L209.4 247.9 L210.2 250.2 L210.9 251.2 L212.8 253.5 L214.3 254.0 L215.2 252.7 L216.2 250.6 L217.2 248.5 L218.2 248.2 L219.0 248.9 L219.9 249.8 L220.8 252.5 L221.6 254.0 L222.3 255.6 L223.6 257.5 L224.8 258.1 L226.0 259.4 L227.6 259.7 L229.3 259.3 L231.3 257.9 L233.3 257.3 L235.2 256.7 L237.0 256.5 L238.9 255.8 L240.8 254.7 L242.6 254.6 L244.5 254.0 L246.3 254.0 L248.2 254.0 L250.0 252.8 L251.9 250.8 L253.8 250.2 L255.8 249.2 L257.7 248.9 L259.6 247.8 L261.4 247.0 L263.0 247.1 L264.6 245.7 L266.0 244.7 L266.9 244.4 L267.8 242.0 L268.7 239.6 L269.5 237.4 L270.0 237.0" fill="none" stroke="#2e3338" stroke-width="1.2" stroke-linejoin="round" stroke-linecap="round"/>
<path d="M45.6 257.0 L46.7 256.0 L48.3 255.1 L50.1 255.5 L52.0 255.0 L53.5 255.2 L55.0 254.6 L56.7 254.3 L58.3 254.1 L60.0 254.7 L61.5 252.7 L63.0 252.6 L64.6 251.6 L66.2 250.9 L67.7 249.8 L69.0 249.8 L70.7 250.0 L72.1 250.3 L73.5 251.0 L75.0 251.9 L76.7 252.3 L78.4 253.4 L80.2 254.1 L82.0 255.1 L83.6 256.1 L85.3 256.7 L87.0 256.7 L88.6 257.7 L90.0 258.1 L91.9 259.0 L93.4 259.3 L95.0 260.0 L96.7 260.5 L98.3 261.2 L100.0 262.1 L101.6 261.6 L103.2 260.1 L105.0 258.8 L106.5 257.8 L108.2 256.6 L109.8 255.3 L111.3 255.8 L113.1 255.5 L114.8 255.6 L116.3 256.4 L117.3 258.5 L118.2 258.8 L119.1 261.9 L120.0 263.2 L120.9 265.5 L121.8 266.1 L122.7 268.1 L123.6 269.4 L124.4 270.6 L126.0 270.1 L127.5 267.7 L128.2 267.2 L128.9 264.9 L129.7 263.2 L130.5 262.0 L131.3 260.3 L132.8 258.7 L134.5 257.9 L136.3 257.3 L137.8 257.2 L139.3 258.4 L140.9 259.3 L142.5 261.1 L143.8 261.1 L145.0 263.2 L146.3 263.8 L147.5 265.1 L148.8 265.9 L150.9 266.7 L153.0 266.8 L155.0 266.7 L156.3 264.9 L157.5 264.4 L158.7 263.1 L160.0 262.3 L161.7 262.0 L163.6 263.5 L165.5 264.0 L167.1 264.6 L168.8 264.9 L170.6 265.6 L172.3 265.6 L173.7 264.9 L175.0 263.3 L176.4 262.4 L177.7 261.6 L179.0 260.2 L180.6 261.7 L182.2 262.0 L183.7 264.2 L184.8 265.4 L186.2 268.1 L186.7 266.6 L187.2 264.9 L187.7 263.0 L188.3 260.8 L188.9 259.6 L189.4 257.4 L190.0 255.7 L191.0 254.1 L191.9 251.7 L192.9 250.4 L193.8 249.2 L195.3 249.2 L196.9 249.3 L199.0 249.3 L201.2 250.0 L202.5 251.6 L203.7 252.7 L205.0 254.1 L206.2 255.8 L207.1 256.9 L208.0 259.1 L208.9 260.9 L209.8 262.4 L210.6 263.7 L211.2 264.8 L213.8 265.9 L214.7 264.0 L215.9 262.5 L217.1 260.6 L218.1 259.5 L219.2 260.9 L220.2 262.5 L221.2 264.4 L222.4 266.6 L223.5 267.7 L224.8 269.4 L226.3 269.4 L227.8 268.8 L229.5 267.1 L231.3 266.8 L233.1 265.5 L235.0 265.2 L236.9 265.2 L238.8 265.4 L240.8 266.1 L242.6 264.6 L244.5 263.5 L246.4 262.7 L248.3 261.9 L250.1 261.7 L252.0 260.3 L253.4 260.1 L254.9 259.3 L256.3 258.5 L257.6 257.1 L259.3 256.7 L260.8 254.9 L262.3 254.3 L264.2 253.2 L266.0 253.1 L268.2 251.8 L270.0 251.0" fill="none" stroke="#2e3338" stroke-width="1.2" stroke-linejoin="round" stroke-linecap="round"/>
<path d="M45.6 271.0 L46.7 271.2 L48.3 270.3 L50.1 269.1 L52.0 269.2 L53.5 268.8 L55.1 268.1 L56.7 267.8 L58.4 267.2 L60.0 266.8 L61.6 266.0 L63.3 266.2 L64.9 266.4 L66.5 266.2 L68.0 265.5 L70.1 265.5 L72.1 266.2 L74.0 267.3 L75.4 267.8 L76.8 268.3 L78.2 269.4 L80.0 269.9 L81.5 270.6 L83.2 270.6 L85.1 270.5 L86.9 271.3 L88.6 271.8 L90.0 271.2 L92.0 271.5 L93.5 271.5 L95.0 270.9 L96.7 271.0 L98.3 272.3 L100.0 272.1 L101.7 272.3 L103.3 271.5 L105.0 272.4 L106.6 270.9 L108.2 270.9 L110.0 271.3 L111.5 271.6 L113.2 271.1 L114.8 271.6 L116.3 272.5 L118.1 272.9 L119.8 275.3 L121.3 276.2 L123.1 275.5 L125.0 274.5 L126.1 273.7 L127.4 272.4 L128.7 271.2 L130.1 270.5 L131.3 269.1 L133.0 269.4 L134.6 269.8 L136.3 270.9 L138.3 270.1 L140.4 270.1 L142.5 270.0 L144.1 270.5 L145.7 272.0 L147.3 272.2 L148.8 273.5 L150.6 273.9 L152.2 274.5 L153.8 274.2 L155.3 275.0 L156.7 275.3 L158.6 274.8 L160.1 274.8 L161.9 274.1 L163.9 273.6 L165.8 273.6 L167.7 272.7 L169.6 272.7 L171.6 273.3 L173.5 274.6 L175.3 275.1 L176.8 275.4 L178.2 274.8 L179.3 273.7 L180.3 271.7 L181.4 271.1 L182.7 271.4 L184.1 273.5 L185.6 275.4 L187.0 275.9 L188.1 274.0 L189.2 273.7 L190.3 272.2 L191.5 270.2 L192.7 268.1 L194.3 267.2 L196.0 266.4 L197.8 265.6 L199.5 264.9 L200.9 265.3 L202.3 266.8 L203.6 267.0 L205.0 269.2 L206.4 269.7 L207.8 270.9 L209.2 271.6 L210.7 273.1 L212.0 274.4 L213.2 273.8 L214.2 274.2 L215.2 271.1 L216.0 269.2 L216.8 268.0 L217.7 267.7 L218.5 268.4 L219.3 269.4 L220.1 271.3 L220.9 273.3 L221.7 274.9 L222.3 275.6 L223.5 279.1 L224.8 279.8 L227.0 279.7 L229.5 278.5 L231.3 278.0 L233.1 276.8 L235.0 276.0 L236.9 275.9 L238.8 274.6 L240.8 275.1 L242.6 274.6 L244.5 275.0 L246.4 275.5 L248.3 274.1 L250.1 273.8 L252.0 272.9 L253.9 272.8 L255.8 271.5 L257.6 270.6 L259.3 270.8 L260.8 269.8 L262.3 269.3 L264.2 269.3 L266.0 268.1 L268.2 267.5 L270.0 267.0" fill="none" stroke="#2e3338" stroke-width="1.2" stroke-linejoin="round" stroke-linecap="round"/>
<path d="M45.6 286.0 L46.7 285.6 L48.3 285.0 L50.1 284.0 L52.0 284.0 L53.5 284.1 L55.0 283.0 L56.7 283.6 L58.3 282.0 L60.0 282.9 L61.8 281.7 L63.6 281.2 L65.5 280.3 L67.3 279.6 L69.0 279.1 L70.9 279.7 L72.7 280.8 L74.4 281.6 L76.0 281.9 L77.6 282.8 L79.1 284.0 L80.5 284.9 L82.0 286.7 L84.0 286.3 L86.0 285.5 L88.0 284.8 L90.0 284.2 L92.0 284.8 L94.0 284.7 L95.5 284.8 L97.0 286.6 L98.5 287.0 L100.0 288.2 L101.8 287.4 L103.6 286.7 L105.5 286.2 L107.1 285.6 L108.8 285.3 L110.5 284.2 L112.0 284.9 L114.3 285.0 L116.4 285.4 L117.7 286.5 L119.1 287.3 L120.5 288.6 L121.8 288.5 L123.0 288.4 L124.2 287.1 L125.2 286.0 L126.2 284.6 L127.6 283.1 L128.9 281.9 L130.8 282.2 L132.7 283.1 L134.2 284.7 L136.0 285.2 L137.5 286.2 L139.2 285.1 L141.0 285.2 L142.5 285.4 L144.3 286.3 L145.8 288.6 L147.2 288.9 L148.8 290.5 L150.2 290.7 L151.8 289.0 L153.5 287.6 L154.9 287.0 L156.5 285.5 L158.0 284.5 L159.3 282.8 L160.6 281.5 L162.0 280.4 L163.7 280.4 L165.7 281.2 L167.7 282.1 L169.0 282.4 L170.4 283.4 L171.8 284.7 L173.2 285.3 L174.5 285.8 L176.4 287.8 L178.3 287.9 L180.2 288.8 L181.8 287.7 L183.6 287.9 L185.4 285.8 L187.0 285.3 L188.5 284.1 L189.8 281.6 L191.2 280.9 L192.7 279.1 L194.3 278.5 L196.0 279.6 L197.8 280.2 L199.5 280.4 L201.2 280.3 L202.9 282.2 L204.7 283.0 L206.4 283.9 L208.2 284.7 L209.9 285.1 L211.7 286.1 L213.2 286.9 L214.2 285.8 L215.1 283.3 L215.9 281.3 L216.8 280.2 L217.7 279.8 L218.8 280.2 L220.1 281.0 L221.4 283.3 L222.5 285.0 L223.4 286.7 L224.8 287.6 L226.1 287.0 L227.8 286.6 L229.5 285.2 L231.3 284.8 L233.1 283.0 L235.0 282.6 L236.9 283.3 L238.8 283.5 L240.8 284.1 L242.6 283.3 L244.5 283.1 L246.4 282.5 L248.3 282.6 L250.1 283.4 L252.0 282.6 L253.9 283.0 L255.8 282.4 L257.6 281.5 L259.3 280.9 L260.8 280.1 L262.3 278.6 L264.2 278.6 L266.0 279.5 L268.2 280.4 L270.0 281.0" fill="none" stroke="#2e3338" stroke-width="1.2" stroke-linejoin="round" stroke-linecap="round"/>
<path d="M45.6 298.0 L46.5 297.3 L47.7 295.6 L49.2 294.8 L50.6 292.7 L52.0 292.3 L53.5 291.1 L54.9 290.1 L56.4 290.1 L58.0 288.9 L59.5 289.1 L61.1 289.9 L62.7 290.7 L64.4 290.6 L66.0 291.7 L67.6 291.7 L69.2 292.4 L70.8 293.0 L72.4 292.7 L74.0 293.0 L75.6 293.4 L77.3 292.7 L78.9 294.5 L80.5 294.8 L82.0 295.1 L84.1 295.5 L86.1 296.0 L88.0 296.9 L89.5 298.2 L91.0 298.5 L92.5 299.8 L94.0 299.1 L96.0 300.7 L98.0 301.8 L100.0 301.7 L101.4 300.3 L102.8 299.4 L104.1 298.6 L105.5 296.3 L107.0 295.1 L108.6 293.7 L110.1 292.7 L111.5 292.4 L113.5 292.6 L115.3 293.3 L116.1 295.6 L116.8 296.3 L117.5 297.9 L118.3 300.4 L119.0 301.2 L119.9 302.5 L120.8 304.6 L121.6 306.1 L122.4 306.8 L123.7 306.3 L125.0 304.8 L125.9 303.4 L126.8 301.4 L127.8 301.6 L129.0 298.8 L130.3 297.7 L131.6 296.8 L133.2 297.6 L134.9 298.4 L136.2 299.3 L137.7 300.6 L139.3 300.6 L141.1 300.9 L143.0 302.1 L144.7 302.5 L146.5 304.0 L148.0 305.6 L149.3 307.0 L150.7 307.4 L151.9 307.0 L153.2 305.3 L154.5 303.4 L155.8 303.0 L157.1 301.3 L158.6 300.2 L159.6 298.2 L160.8 297.0 L161.9 295.2 L163.1 292.8 L164.3 292.5 L165.7 292.9 L167.2 295.1 L168.6 295.3 L170.0 296.7 L171.1 296.1 L172.3 294.5 L173.4 293.0 L174.6 291.2 L175.7 290.7 L177.1 291.1 L178.6 292.2 L180.0 293.7 L181.4 294.7 L182.5 295.9 L183.7 297.7 L184.8 299.8 L185.9 300.2 L187.0 300.5 L187.7 300.2 L188.4 298.8 L189.0 297.2 L189.6 294.4 L190.2 293.3 L190.9 291.7 L191.6 291.0 L193.4 288.8 L195.3 289.2 L197.3 289.8 L198.9 290.3 L200.5 291.4 L202.2 292.4 L204.0 292.6 L205.6 294.2 L207.2 295.0 L208.9 295.9 L210.5 297.6 L212.0 297.3 L213.6 296.7 L215.1 295.7 L216.4 294.4 L217.7 294.9 L218.7 295.6 L219.7 297.6 L220.7 299.1 L221.5 300.5 L222.3 302.4 L224.8 302.8 L226.6 302.3 L228.6 301.2 L229.7 300.2 L230.8 299.1 L232.0 297.2 L233.2 296.7 L235.1 296.7 L237.1 297.2 L238.9 298.0 L240.8 299.1 L242.6 299.5 L244.3 298.9 L246.3 297.9 L248.2 296.6 L250.2 295.5 L252.2 294.8 L253.9 293.4 L255.9 292.1 L257.6 291.8 L259.5 291.7 L261.4 292.6 L263.3 293.1 L265.1 293.5 L268.0 293.7 L270.0 291.9" fill="none" stroke="#2e3338" stroke-width="1.2" stroke-linejoin="round" stroke-linecap="round"/>
<path d="M45.6 313.0 L46.6 311.9 L48.1 311.0 L49.9 309.3 L52.0 309.1 L53.6 308.2 L55.4 308.2 L57.3 306.6 L59.3 307.0 L61.2 307.2 L63.0 306.1 L64.9 307.0 L66.7 307.5 L68.4 308.0 L70.2 308.0 L72.0 309.1 L73.7 309.4 L75.4 309.3 L77.2 310.3 L78.9 310.4 L80.6 310.7 L82.0 310.8 L84.3 311.6 L86.1 311.7 L88.0 312.4 L90.0 312.5 L92.0 312.4 L94.0 312.9 L96.0 314.1 L98.0 314.5 L100.0 314.9 L101.4 314.4 L102.8 313.1 L104.1 311.1 L105.5 311.0 L107.3 309.9 L109.1 308.9 L110.9 308.0 L112.7 308.9 L114.6 309.1 L116.4 309.8 L118.1 311.1 L119.8 313.1 L121.3 313.0 L122.2 312.0 L123.0 311.2 L123.8 308.8 L124.5 307.0 L125.5 305.2 L126.4 303.2 L127.3 301.7 L128.2 303.5 L129.1 305.2 L130.0 306.8 L130.9 307.7 L131.8 310.7 L132.7 312.5 L133.8 313.3 L134.9 314.9 L136.0 316.2 L137.6 316.8 L139.3 317.4 L141.4 316.4 L143.6 315.7 L145.8 314.9 L148.0 313.8 L150.0 313.5 L151.8 314.4 L153.1 311.9 L154.5 310.5 L155.7 309.1 L157.1 307.8 L158.6 305.7 L159.7 303.7 L160.7 302.1 L161.9 299.8 L163.2 299.7 L164.4 300.4 L165.8 300.1 L167.2 302.1 L168.6 303.6 L170.0 304.9 L171.4 305.1 L172.8 306.4 L174.2 307.2 L175.6 308.6 L176.8 310.2 L178.5 311.9 L180.0 311.7 L181.4 314.0 L182.2 315.2 L183.0 316.9 L183.8 320.0 L184.6 319.8 L185.5 321.4 L186.4 320.8 L187.3 319.9 L188.3 317.7 L189.4 315.8 L190.5 313.5 L192.1 312.8 L193.8 312.4 L195.6 311.7 L197.3 311.3 L199.0 311.0 L200.6 311.0 L202.3 310.8 L204.0 311.9 L205.7 311.0 L207.5 310.3 L209.3 310.9 L211.0 310.0 L212.2 309.0 L213.3 308.0 L214.5 305.5 L215.6 303.8 L216.7 302.3 L217.7 302.0 L219.0 302.4 L220.2 304.4 L221.3 307.5 L222.3 307.9 L224.0 308.5 L225.8 309.5 L227.2 308.4 L228.8 307.2 L230.4 306.3 L231.9 305.8 L233.5 305.4 L235.1 305.5 L236.9 305.5 L238.8 306.0 L240.8 305.8 L242.6 306.6 L244.5 307.1 L246.4 308.2 L248.3 308.0 L250.2 307.2 L252.0 307.1 L253.6 307.2 L255.2 305.8 L256.7 304.6 L258.3 305.4 L259.8 306.4 L261.4 306.9 L263.7 307.6 L266.0 308.2 L268.3 308.5 L270.0 308.8" fill="none" stroke="#2e3338" stroke-width="1.2" stroke-linejoin="round" stroke-linecap="round"/>
<path d="M45.6 336.0 L46.5 334.8 L47.7 334.3 L49.1 332.7 L50.6 331.4 L52.0 329.8 L53.2 328.3 L54.4 327.1 L55.6 326.1 L56.8 324.6 L57.9 323.0 L59.0 323.8 L60.9 322.8 L62.5 323.7 L64.0 325.2 L65.3 325.2 L66.5 327.9 L68.0 328.3 L69.6 329.5 L71.4 329.6 L73.3 330.3 L75.0 330.6 L76.8 330.9 L78.4 330.4 L80.0 330.9 L81.7 331.8 L83.3 332.9 L85.0 333.2 L86.2 334.8 L87.5 336.1 L88.8 337.8 L90.0 339.4 L91.2 339.7 L92.5 341.5 L93.8 342.3 L95.0 342.9 L96.7 343.0 L98.3 342.9 L100.0 342.2 L101.2 341.3 L102.4 341.5 L103.7 339.9 L105.0 338.0 L106.5 337.0 L108.1 335.0 L109.6 333.1 L111.0 332.7 L113.1 333.5 L115.0 335.5 L115.8 336.0 L116.6 336.9 L117.4 338.6 L118.2 340.0 L119.0 341.5 L119.7 343.5 L120.4 345.3 L121.1 347.1 L121.7 349.0 L122.4 350.5 L123.0 352.1 L126.0 352.5 L126.6 350.9 L127.3 350.3 L128.0 347.2 L128.7 346.1 L129.4 343.9 L130.0 342.9 L131.0 341.1 L132.0 339.8 L133.0 339.0 L134.9 337.8 L137.0 338.1 L138.0 339.5 L139.0 341.1 L140.0 342.3 L141.0 344.3 L141.9 346.1 L142.8 346.4 L143.8 348.4 L145.0 349.4 L146.5 348.2 L148.2 348.4 L150.0 347.4 L151.8 346.3 L153.5 346.6 L155.2 345.3 L156.9 344.4 L158.6 344.7 L160.0 345.4 L161.4 346.6 L162.7 347.8 L164.1 348.8 L165.5 348.6 L166.9 348.3 L168.2 347.4 L169.6 344.9 L170.9 345.3 L172.3 343.3 L174.0 341.8 L175.8 340.5 L177.5 340.4 L179.0 340.0 L180.6 340.9 L182.1 342.8 L183.6 343.1 L184.5 342.3 L185.4 341.2 L186.4 339.3 L187.4 338.0 L188.3 335.8 L189.3 334.3 L190.3 333.0 L191.2 331.7 L192.2 329.9 L193.2 328.4 L194.1 327.1 L195.0 326.1 L197.3 325.9 L199.5 327.8 L200.5 328.6 L201.6 329.6 L202.8 330.7 L204.0 332.2 L205.2 334.4 L206.3 336.2 L207.4 337.7 L208.6 338.9 L209.7 340.9 L210.9 342.1 L212.0 342.0 L212.9 341.7 L213.9 340.0 L214.8 337.7 L215.7 335.4 L216.6 334.1 L217.4 332.4 L218.2 331.1 L219.4 331.4 L220.5 333.8 L221.4 336.0 L222.3 337.6 L223.2 340.5 L223.9 341.9 L224.8 343.0 L227.0 343.9 L229.5 342.4 L231.3 341.9 L233.2 341.0 L235.1 339.9 L237.0 339.4 L238.9 339.4 L240.8 339.6 L242.6 338.2 L244.5 338.6 L246.4 337.9 L248.3 337.6 L250.1 338.5 L252.0 338.6 L253.9 337.5 L255.8 336.1 L257.6 336.1 L259.3 334.8 L260.8 334.7 L262.3 333.3 L264.2 334.1 L266.0 333.7 L267.5 332.1 L269.0 330.7 L270.0 329.4" fill="none" stroke="#ef6674" stroke-width="1.2" stroke-linejoin="round" stroke-linecap="round"/>
<path d="M45.6 351.0 L46.5 350.1 L47.7 348.5 L49.1 346.7 L50.6 345.6 L52.0 343.4 L53.2 343.0 L54.4 341.6 L55.6 340.7 L56.8 339.2 L57.9 338.1 L59.0 337.5 L60.8 337.5 L62.3 338.2 L64.0 340.5 L65.4 341.3 L66.9 342.3 L68.5 343.2 L70.0 345.1 L72.0 345.3 L73.9 344.8 L76.0 345.6 L77.7 346.4 L79.6 345.9 L81.4 346.5 L83.0 346.8 L84.4 347.8 L85.6 349.7 L86.7 351.8 L88.0 352.0 L89.4 353.3 L90.9 355.1 L92.5 356.0 L94.0 357.3 L96.0 357.8 L98.1 357.0 L100.0 356.2 L101.1 355.6 L102.1 354.6 L103.0 352.9 L104.0 351.7 L105.0 349.5 L106.2 348.7 L107.5 346.9 L108.8 346.0 L110.0 345.5 L111.7 345.4 L113.3 347.0 L115.0 348.2 L116.3 349.9 L117.6 350.9 L118.8 352.4 L120.0 354.1 L121.1 355.2 L122.1 357.4 L123.0 358.0 L124.0 359.3 L126.0 358.6 L128.0 356.6 L129.3 355.9 L130.7 354.5 L132.0 353.9 L134.0 353.5 L136.0 354.7 L137.3 354.7 L138.6 356.7 L140.0 357.2 L141.5 357.0 L143.2 356.8 L145.0 357.7 L146.6 356.2 L148.3 356.4 L150.1 355.7 L151.8 354.9 L153.5 354.7 L155.2 355.0 L156.9 355.6 L158.6 355.9 L160.3 356.5 L162.0 357.6 L163.8 358.9 L165.5 358.4 L166.9 358.2 L168.2 356.6 L169.6 355.6 L170.9 354.1 L172.3 353.5 L174.0 352.7 L175.7 351.5 L177.4 350.4 L179.0 350.4 L180.5 350.7 L182.0 352.2 L183.4 353.4 L184.8 353.8 L185.9 351.9 L187.1 351.0 L188.2 350.0 L189.4 348.1 L190.5 347.6 L191.9 345.4 L193.3 344.2 L194.7 344.2 L196.1 343.6 L197.5 344.6 L198.9 345.2 L200.3 346.4 L201.8 348.3 L202.9 348.8 L204.1 350.1 L205.3 351.3 L206.5 352.7 L207.6 354.2 L208.6 354.6 L210.3 356.5 L211.7 357.3 L213.2 357.3 L213.9 354.9 L214.6 354.1 L215.3 352.2 L216.0 349.5 L216.7 348.3 L217.5 346.5 L218.2 346.2 L219.3 346.5 L220.4 348.0 L221.6 349.9 L222.6 351.7 L223.4 353.5 L224.8 355.4 L226.1 355.2 L227.7 353.8 L229.5 353.9 L230.8 351.3 L232.2 351.2 L233.7 349.6 L235.1 348.9 L237.0 348.8 L238.9 348.3 L240.8 347.7 L242.6 347.9 L244.5 347.3 L246.4 346.4 L248.3 347.6 L250.1 347.6 L252.0 347.8 L253.9 347.5 L255.8 346.2 L257.6 345.2 L260.1 346.5 L262.3 346.4 L264.2 345.7 L266.0 345.4 L268.2 344.2 L270.0 343.4" fill="none" stroke="#ef6674" stroke-width="1.2" stroke-linejoin="round" stroke-linecap="round"/>
<path d="M45.6 364.0 L46.8 363.4 L48.4 363.0 L50.3 362.5 L52.0 362.2 L53.5 361.2 L55.0 360.3 L56.4 359.4 L58.0 358.7 L59.8 357.8 L61.6 357.2 L63.4 356.5 L65.0 356.2 L67.2 356.1 L69.0 357.0 L70.3 357.7 L71.7 358.8 L73.0 359.8 L74.0 361.1 L75.0 362.4 L76.0 363.7 L77.0 365.1 L78.3 366.4 L79.6 367.8 L81.0 368.7 L82.5 369.4 L84.1 369.9 L86.0 369.9 L87.3 370.1 L88.8 369.9 L90.4 369.7 L92.1 369.7 L94.0 369.7 L95.5 369.2 L97.1 369.4 L98.8 369.2 L100.5 368.8 L102.3 368.9 L104.1 368.7 L106.0 368.6 L107.6 368.5 L109.3 368.3 L111.0 368.4 L112.8 368.4 L114.5 368.3 L116.3 368.2 L118.1 368.2 L120.0 367.9 L121.5 367.9 L123.1 367.9 L124.7 367.9 L126.4 367.8 L128.0 367.7 L129.6 367.6 L131.3 367.8 L132.9 367.3 L134.5 367.4 L136.0 367.7 L137.8 367.4 L139.6 367.1 L141.2 367.2 L142.9 367.0 L144.6 367.0 L146.3 367.1 L148.1 367.2 L150.0 367.1 L151.5 367.1 L153.0 367.1 L154.7 367.0 L156.3 366.8 L158.0 366.9 L159.7 367.0 L161.4 366.9 L163.1 366.8 L164.7 366.8 L166.2 366.7 L167.7 366.7 L169.7 366.7 L171.6 366.6 L173.5 366.6 L175.4 366.6 L177.1 366.4 L178.7 366.3 L180.2 366.0 L181.4 365.9 L183.5 365.5 L184.6 364.7 L186.0 364.5 L187.5 364.4 L189.2 364.8 L191.0 365.1 L192.7 365.6 L194.3 365.9 L195.9 366.4 L197.6 367.0 L199.5 367.3 L201.2 367.7 L203.2 367.6 L205.2 367.7 L207.0 367.6 L208.6 367.4 L210.1 366.7 L211.3 365.9 L212.3 364.4 L213.2 363.0 L213.6 361.6 L213.9 359.8 L214.3 357.8 L214.5 356.0 L214.8 354.1 L215.0 351.9 L215.3 350.5 L215.5 348.8 L216.0 346.5 L216.4 344.4 L216.9 342.7 L217.3 341.6 L217.8 342.1 L218.3 343.6 L218.9 346.8 L219.1 348.1 L219.2 349.7 L219.4 351.1 L219.6 353.0 L219.8 354.9 L220.0 357.1 L220.2 358.7 L220.4 361.1 L220.6 362.7 L220.8 364.6 L220.9 365.8 L221.1 367.2 L221.4 370.1 L221.7 372.2 L222.0 373.2 L222.3 374.1 L223.3 372.9 L224.5 370.8 L225.2 369.3 L226.1 368.0 L227.6 366.9 L229.1 366.7 L230.9 366.3 L232.9 366.2 L235.0 366.4 L237.0 366.0 L238.9 365.9 L240.9 365.6 L242.8 365.5 L244.6 365.0 L246.4 365.0 L248.5 364.5 L250.4 364.0 L252.2 363.5 L253.9 363.2 L255.9 362.3 L257.8 361.1 L259.5 360.5 L261.2 359.2 L262.7 358.3 L264.2 357.5 L266.3 356.4 L268.0 355.8 L270.0 356.0" fill="none" stroke="#2e3338" stroke-width="1.2" stroke-linejoin="round" stroke-linecap="round"/>
<g stroke="#5d6166" stroke-width="1.4">
<line x1="320" y1="44.0" x2="534.5" y2="44.0"/>
<line x1="320" y1="61.7" x2="534.5" y2="61.7"/>
<line x1="320" y1="79.4" x2="534.5" y2="79.4"/>
<line x1="320" y1="97.0" x2="534.5" y2="97.0"/>
<line x1="320" y1="114.7" x2="534.5" y2="114.7"/>
<line x1="320" y1="132.4" x2="534.5" y2="132.4"/>
<line x1="320" y1="150.1" x2="534.5" y2="150.1"/>
<line x1="320" y1="167.8" x2="534.5" y2="167.8"/>
<line x1="320" y1="185.4" x2="534.5" y2="185.4"/>
<line x1="320" y1="203.1" x2="534.5" y2="203.1"/>
<line x1="320" y1="220.8" x2="534.5" y2="220.8"/>
<line x1="320" y1="238.5" x2="534.5" y2="238.5"/>
<line x1="320" y1="256.2" x2="534.5" y2="256.2"/>
<line x1="320" y1="273.8" x2="534.5" y2="273.8"/>
<line x1="320" y1="291.5" x2="534.5" y2="291.5"/>
<line x1="320" y1="309.2" x2="534.5" y2="309.2"/>
<line x1="320" y1="326.9" x2="534.5" y2="326.9"/>
<line x1="320" y1="344.6" x2="534.5" y2="344.6"/>
<line x1="320" y1="362.2" x2="534.5" y2="362.2"/>
<line x1="320" y1="379.9" x2="534.5" y2="379.9"/>
</g>
<g fill="none">
<line x1="350.2" y1="26.8" x2="320" y2="26.8" stroke="#474b4f" stroke-width="1.2"/>
<line x1="407" y1="26.8" x2="483" y2="26.8" stroke="#474b4f" stroke-width="1.2"/>
<line x1="518.6" y1="26.8" x2="534.6" y2="26.8" stroke="#474b4f" stroke-width="1.2"/>
<line x1="320" y1="26.2" x2="320" y2="411" stroke="#7e8183" stroke-width="1.9"/>
<line x1="534.6" y1="26.2" x2="534.6" y2="410.5" stroke="#707375" stroke-width="1.7"/>
<line x1="319.5" y1="407.9" x2="535" y2="407.9" stroke="#22282a" stroke-width="1.7"/>
<rect x="489.5" y="10.9" width="23" height="25.3" stroke="#3d4246" stroke-width="1.1"/>
<g stroke="#3a3e42" stroke-width="1.1">
<line x1="341.3" y1="403.0" x2="341.3" y2="407.5"/>
<line x1="362.8" y1="403.0" x2="362.8" y2="407.5"/>
<line x1="384.2" y1="403.0" x2="384.2" y2="407.5"/>
<line x1="405.7" y1="403.0" x2="405.7" y2="407.5"/>
<line x1="427.2" y1="399.5" x2="427.2" y2="407.5"/>
<line x1="448.7" y1="403.0" x2="448.7" y2="407.5"/>
<line x1="470.2" y1="403.0" x2="470.2" y2="407.5"/>
<line x1="491.6" y1="403.0" x2="491.6" y2="407.5"/>
<line x1="513.1" y1="403.0" x2="513.1" y2="407.5"/>
</g></g>
<text x="280.5" y="50.3" font-size="8.8" font-weight="bold" textLength="27.1" lengthAdjust="spacingAndGlyphs">Fp1-F7</text>
<text x="280.8" y="66.0" font-size="8.8" font-weight="bold" textLength="22.8" lengthAdjust="spacingAndGlyphs">F7-T7</text>
<text x="280.8" y="81.4" font-size="8.8" font-weight="bold" textLength="24.2" lengthAdjust="spacingAndGlyphs">T7-P7</text>
<text x="281.4" y="97.0" font-size="8.8" font-weight="bold" textLength="24.2" lengthAdjust="spacingAndGlyphs">P7-O1</text>
<text x="280.7" y="121.6" font-size="8.8" font-weight="bold" textLength="27.1" lengthAdjust="spacingAndGlyphs">Fp2-F8</text>
<text x="280.2" y="136.8" font-size="8.8" font-weight="bold" textLength="23.6" lengthAdjust="spacingAndGlyphs">F8-T8</text>
<text x="281.2" y="151.8" font-size="8.8" font-weight="bold" textLength="25.0" lengthAdjust="spacingAndGlyphs">T8-P8</text>
<text x="280.7" y="167.8" font-size="8.8" font-weight="bold" textLength="26.3" lengthAdjust="spacingAndGlyphs">P8-O2</text>
<text x="280.7" y="193.3" font-size="8.8" font-weight="bold" textLength="27.9" lengthAdjust="spacingAndGlyphs">Fp1-F3</text>
<text x="280.2" y="208.7" font-size="8.8" font-weight="bold" textLength="23.6" lengthAdjust="spacingAndGlyphs">F3-C3</text>
<text x="280.2" y="224.0" font-size="8.8" font-weight="bold" textLength="25.2" lengthAdjust="spacingAndGlyphs">C3-P3</text>
<text x="280.2" y="239.6" font-size="8.8" font-weight="bold" textLength="24.1" lengthAdjust="spacingAndGlyphs">P3-O1</text>
<text x="280.7" y="264.5" font-size="8.8" font-weight="bold" textLength="26.6" lengthAdjust="spacingAndGlyphs">Fp2-F4</text>
<text x="280.2" y="279.9" font-size="8.8" font-weight="bold" textLength="23.3" lengthAdjust="spacingAndGlyphs">F4-C4</text>
<text x="281.2" y="295.5" font-size="8.8" font-weight="bold" textLength="23.0" lengthAdjust="spacingAndGlyphs">C4-P4</text>
<text x="280.2" y="311.1" font-size="8.8" font-weight="bold" textLength="25.7" lengthAdjust="spacingAndGlyphs">P4-O2</text>
<text x="280.2" y="333.9" font-size="8.8" font-weight="bold" textLength="22.3" lengthAdjust="spacingAndGlyphs">Fz-Cz</text>
<text x="281.2" y="349.5" font-size="8.8" font-weight="bold" textLength="21.6" lengthAdjust="spacingAndGlyphs">Cz-Pz</text>
<text x="281.2" y="365.1" font-size="8.8" font-weight="bold" textLength="23.8" lengthAdjust="spacingAndGlyphs">A1-A2</text>
<text x="282.8" y="386.4" font-size="13.2" font-weight="bold" textLength="22.6" lengthAdjust="spacingAndGlyphs">ECG</text>
<text x="352.5" y="30" font-size="14.6" textLength="45.2" lengthAdjust="spacingAndGlyphs">Bipolar</text>
<text x="495" y="30.9" font-size="22" style="stroke-width:0.9px" textLength="12.6" lengthAdjust="spacingAndGlyphs">b</text>
<text x="317.1" y="428.5" font-size="18" font-weight="bold" textLength="8.2" lengthAdjust="spacingAndGlyphs">0</text>
<text x="417.1" y="428.5" font-size="18" font-weight="bold" textLength="20.4" lengthAdjust="spacingAndGlyphs">0.5</text>
<text x="526.4" y="428.5" font-size="18" font-weight="bold" textLength="20" lengthAdjust="spacingAndGlyphs">1 s</text>
<path d="M320.0 41.0 L321.6 40.2 L323.8 40.3 L326.0 39.7 L328.0 38.7 L330.1 39.9 L332.0 40.0 L333.7 41.3 L335.2 42.6 L337.0 43.8 L338.6 43.4 L340.4 43.2 L342.3 42.9 L344.0 42.9 L346.0 43.3 L347.9 42.7 L350.0 44.2 L351.5 43.8 L353.1 44.4 L354.7 45.5 L356.4 46.1 L358.0 46.3 L359.6 46.4 L361.3 46.7 L362.9 46.7 L364.5 47.9 L366.0 48.0 L368.1 48.6 L370.1 48.3 L372.0 48.1 L374.0 47.7 L376.0 46.9 L378.0 45.9 L380.0 46.2 L382.1 47.2 L384.0 46.4 L385.8 47.3 L387.5 48.6 L389.0 50.3 L390.6 52.2 L392.0 52.9 L393.4 53.0 L395.0 51.6 L396.5 50.6 L398.2 48.9 L400.0 48.0 L401.9 47.2 L404.0 47.0 L406.0 47.2 L408.0 46.1 L410.0 47.6 L412.0 48.0 L414.0 48.8 L416.0 49.3 L418.0 49.3 L420.1 48.8 L422.1 47.3 L424.0 46.4 L426.1 47.4 L428.0 47.4 L429.9 47.0 L432.0 48.5 L433.9 49.0 L435.9 48.7 L438.0 50.3 L440.0 49.3 L442.0 49.2 L444.0 47.8 L446.0 47.0 L448.0 46.0 L450.0 46.3 L451.5 47.3 L453.0 47.6 L454.5 48.0 L456.0 49.8 L457.5 49.1 L459.1 47.5 L460.6 45.8 L462.0 44.6 L464.0 43.4 L466.0 43.8 L467.9 44.0 L469.9 43.3 L472.0 44.0 L473.5 44.4 L475.0 45.2 L476.5 46.1 L478.0 47.2 L480.0 46.2 L482.0 46.4 L484.0 46.4 L485.9 46.1 L487.9 46.6 L490.0 46.5 L491.5 47.6 L493.1 47.2 L494.7 47.3 L496.4 47.6 L498.0 47.3 L499.6 47.1 L501.2 47.1 L502.8 47.5 L504.4 46.6 L506.0 46.6 L507.6 45.7 L509.2 45.3 L510.8 46.5 L512.4 45.5 L514.0 45.0 L515.6 45.6 L517.2 45.9 L518.8 45.2 L520.4 45.6 L522.0 46.1 L523.6 45.6 L525.3 46.2 L527.0 46.2 L528.6 45.9 L530.0 45.4 L532.1 45.4 L533.8 44.9 L535.0 45.0" fill="none" stroke="#ef6674" stroke-width="1.2" stroke-linejoin="round" stroke-linecap="round"/>
<path d="M320.0 61.0 L321.1 60.9 L322.7 61.1 L324.6 60.8 L326.4 61.3 L328.0 62.0 L330.1 61.2 L332.1 62.0 L334.0 62.3 L335.9 61.8 L337.9 60.8 L340.0 59.8 L341.5 59.8 L343.2 58.9 L344.8 58.2 L346.5 57.1 L348.0 57.2 L350.1 57.2 L352.1 57.2 L354.0 57.8 L356.0 58.5 L358.0 57.1 L360.0 58.2 L362.0 57.9 L364.0 58.2 L366.0 58.9 L368.0 59.5 L370.0 59.6 L372.0 59.2 L374.1 58.7 L376.1 58.5 L378.0 58.4 L380.1 58.6 L382.0 59.4 L383.6 61.8 L385.4 62.2 L387.0 63.5 L389.1 64.6 L391.0 64.8 L392.3 64.2 L393.6 62.6 L395.0 61.2 L396.2 59.0 L397.5 57.1 L398.8 56.8 L400.0 55.0 L402.1 55.4 L404.0 56.4 L405.9 55.9 L408.0 55.6 L409.4 55.4 L410.9 56.1 L412.5 57.7 L414.0 58.2 L416.0 58.9 L418.0 58.7 L420.0 59.2 L421.5 60.2 L423.0 60.9 L424.5 62.0 L426.0 62.0 L428.0 63.2 L430.0 62.3 L432.0 62.2 L434.0 62.6 L436.0 62.3 L438.0 61.7 L440.0 62.1 L442.0 62.1 L444.0 60.5 L446.1 60.1 L448.2 58.9 L450.0 58.3 L451.7 60.2 L453.0 62.3 L453.8 63.9 L454.6 65.6 L455.3 66.5 L456.0 68.4 L458.0 67.8 L458.6 66.3 L459.4 64.6 L460.2 63.3 L461.0 61.0 L462.0 60.3 L463.4 58.5 L464.9 56.7 L466.5 57.0 L468.0 56.5 L470.0 55.2 L472.1 54.2 L474.0 55.1 L475.7 54.1 L477.4 55.1 L479.0 55.3 L480.2 56.6 L481.4 57.8 L482.7 60.2 L484.0 61.4 L485.4 61.8 L486.8 62.2 L488.3 63.3 L490.0 64.1 L491.5 63.9 L493.1 64.4 L494.7 65.2 L496.4 65.9 L498.0 66.0 L499.7 66.6 L501.4 66.4 L503.1 66.3 L504.7 67.7 L506.0 67.7 L508.1 69.0 L510.0 69.5 L511.3 69.4 L512.8 68.3 L514.3 68.3 L516.0 67.0 L517.5 66.6 L519.2 66.0 L520.8 65.5 L522.5 64.6 L524.0 63.4 L526.2 63.3 L528.1 63.9 L530.0 63.2 L531.9 62.8 L533.7 62.4 L535.0 62.0" fill="none" stroke="#ef6674" stroke-width="1.2" stroke-linejoin="round" stroke-linecap="round"/>
<path d="M320.0 76.4 L321.6 76.5 L323.8 77.0 L326.0 77.4 L328.0 78.0 L330.0 77.5 L332.0 77.7 L333.9 76.7 L335.9 76.6 L338.0 75.8 L339.5 75.3 L341.1 76.6 L342.7 76.5 L344.4 77.1 L346.0 77.1 L347.6 77.1 L349.2 77.5 L350.8 77.2 L352.4 77.4 L354.0 77.7 L355.6 78.0 L357.2 77.9 L358.8 78.6 L360.4 79.0 L362.0 79.8 L363.6 79.7 L365.3 79.1 L366.9 79.4 L368.5 78.9 L370.0 79.1 L372.2 79.0 L374.2 78.9 L376.0 79.0 L378.1 77.6 L380.0 78.2 L381.2 78.8 L382.5 79.9 L383.8 81.8 L385.0 83.8 L385.9 84.8 L386.7 86.8 L387.5 88.5 L388.3 90.4 L389.0 90.6 L390.6 93.1 L392.0 93.8 L393.0 93.1 L393.9 90.6 L395.0 88.3 L395.6 86.0 L396.3 84.5 L397.0 83.5 L397.7 80.9 L398.4 80.2 L399.0 77.7 L400.5 75.4 L402.0 73.8 L403.8 74.7 L406.0 75.7 L407.4 77.2 L408.9 77.7 L410.5 78.8 L412.0 79.5 L413.5 81.0 L415.0 82.4 L416.5 83.4 L418.0 84.5 L419.5 85.3 L420.9 85.9 L422.4 86.9 L424.0 87.1 L425.5 86.4 L427.2 87.2 L428.8 86.1 L430.5 85.0 L432.0 85.1 L434.1 84.6 L436.1 84.6 L438.0 84.5 L440.0 83.0 L442.0 84.6 L444.0 85.0 L446.1 83.3 L448.2 81.9 L450.0 82.5 L451.2 83.8 L452.1 85.9 L453.0 87.6 L453.7 89.8 L454.3 92.2 L455.0 94.3 L455.6 95.8 L456.4 94.6 L457.2 92.4 L458.0 89.1 L458.4 89.0 L458.8 86.9 L459.1 85.0 L459.5 82.8 L460.0 81.5 L460.5 78.8 L461.0 78.0 L461.9 76.2 L462.8 74.5 L463.8 73.4 L464.9 71.7 L466.0 71.0 L467.9 71.1 L470.0 70.8 L472.0 72.3 L473.5 73.3 L475.0 74.6 L476.5 75.1 L478.0 76.7 L479.5 77.5 L480.9 77.7 L482.4 78.6 L484.0 79.5 L485.5 80.6 L487.1 81.2 L488.7 81.9 L490.4 82.4 L492.0 82.2 L493.6 83.0 L495.2 83.1 L496.8 83.0 L498.4 83.1 L500.0 82.5 L501.6 83.3 L503.2 83.1 L504.8 83.3 L506.4 83.8 L508.0 84.1 L509.6 83.9 L511.3 83.6 L512.9 83.1 L514.5 83.3 L516.0 82.7 L518.1 82.3 L520.1 82.8 L522.0 82.9 L523.5 81.7 L524.9 80.7 L526.4 80.8 L528.0 80.2 L529.8 79.0 L531.9 78.5 L533.7 78.3 L535.0 78.0" fill="none" stroke="#ef6674" stroke-width="1.2" stroke-linejoin="round" stroke-linecap="round"/>
<path d="M320.0 95.6 L321.1 97.1 L322.6 96.7 L324.4 97.6 L326.3 98.0 L328.0 97.3 L329.6 97.4 L331.2 96.9 L332.8 96.9 L334.4 96.1 L336.0 96.3 L337.6 95.1 L339.2 95.0 L340.8 94.6 L342.4 94.5 L344.0 95.3 L345.6 94.7 L347.2 95.5 L348.8 95.9 L350.4 95.6 L352.0 96.3 L353.6 95.8 L355.2 95.9 L356.8 95.7 L358.4 95.3 L360.0 94.8 L361.6 95.2 L363.3 94.0 L364.9 93.9 L366.5 93.9 L368.0 93.2 L370.2 93.4 L372.1 94.0 L374.0 94.4 L375.7 95.3 L377.4 94.8 L379.0 97.1 L380.3 97.4 L381.6 98.0 L382.8 99.7 L384.0 100.5 L385.4 102.1 L386.7 102.6 L388.0 103.6 L389.8 105.4 L391.6 106.1 L393.3 105.2 L395.0 103.9 L395.7 102.8 L396.4 101.3 L397.1 99.7 L398.0 97.9 L398.9 96.9 L400.0 94.4 L401.0 93.3 L402.1 92.1 L403.0 90.8 L404.6 89.2 L406.0 88.8 L407.3 89.7 L408.6 91.2 L410.0 91.9 L411.3 93.2 L412.5 94.8 L414.0 95.9 L415.4 96.1 L416.9 97.7 L418.5 98.2 L420.0 98.8 L421.5 99.9 L423.0 100.4 L424.5 100.7 L426.0 100.7 L428.0 101.5 L430.0 102.7 L432.0 103.0 L434.0 103.0 L436.0 102.5 L438.0 101.8 L440.1 101.3 L442.1 101.2 L444.0 101.5 L446.2 101.8 L448.0 103.3 L451.0 103.5 L451.8 104.5 L452.6 106.8 L453.3 107.9 L454.0 110.6 L455.1 112.0 L456.0 113.6 L457.0 112.6 L458.0 109.7 L458.3 107.9 L458.6 106.1 L458.9 105.1 L459.3 103.1 L459.6 101.6 L460.0 98.4 L460.5 97.4 L461.1 95.4 L461.8 94.1 L462.4 92.1 L463.0 91.3 L464.0 89.5 L464.9 88.0 L466.0 87.5 L467.8 86.9 L470.0 88.6 L471.4 88.7 L472.9 90.9 L474.5 90.6 L476.0 93.0 L477.5 94.0 L478.9 95.6 L480.4 97.3 L482.0 98.3 L483.5 98.8 L485.1 100.0 L486.7 99.4 L488.4 100.2 L490.0 101.6 L491.6 101.6 L493.2 101.2 L494.8 102.6 L496.4 102.3 L498.0 103.6 L499.6 103.5 L501.2 102.7 L502.8 103.3 L504.4 102.3 L506.0 102.7 L507.6 102.5 L509.2 102.1 L510.8 101.4 L512.4 101.7 L514.0 100.7 L515.6 101.2 L517.2 100.4 L518.8 101.3 L520.4 100.3 L522.0 99.5 L523.6 100.4 L525.3 100.2 L527.0 99.8 L528.6 100.6 L530.0 99.9 L532.1 99.1 L533.8 98.2 L535.0 98.0" fill="none" stroke="#ef6674" stroke-width="1.2" stroke-linejoin="round" stroke-linecap="round"/>
<path d="M320.0 111.0 L321.6 109.3 L323.9 109.8 L326.0 109.4 L328.0 108.2 L330.0 107.9 L331.4 108.8 L332.9 108.9 L334.5 110.3 L336.0 111.3 L337.7 112.6 L339.2 113.2 L341.0 113.7 L342.6 113.6 L344.4 113.2 L346.3 111.8 L348.0 111.1 L350.1 111.5 L352.0 111.8 L354.0 112.7 L355.5 113.7 L357.1 114.8 L358.6 115.6 L360.0 116.0 L362.0 115.6 L364.0 115.2 L365.9 115.0 L367.9 114.7 L370.0 114.6 L372.0 113.3 L374.0 112.7 L376.0 113.0 L378.0 112.6 L380.0 113.1 L382.0 113.5 L383.5 114.6 L385.0 114.8 L386.5 115.4 L388.0 116.4 L390.0 117.0 L392.0 118.2 L394.0 117.9 L395.5 117.6 L397.1 116.7 L398.6 116.0 L400.0 114.8 L402.1 113.8 L404.0 111.9 L405.9 112.7 L408.0 113.7 L409.4 115.1 L410.9 115.9 L412.5 117.1 L414.0 117.5 L416.0 117.7 L418.0 117.4 L420.0 117.5 L422.0 116.9 L424.0 116.5 L426.0 116.1 L428.0 116.6 L430.0 116.8 L432.0 116.7 L434.0 116.1 L436.0 115.7 L438.0 115.1 L440.1 115.6 L442.1 115.0 L444.0 115.7 L446.0 115.9 L448.0 115.2 L449.9 116.6 L451.9 117.1 L454.0 117.5 L456.0 116.7 L458.0 116.5 L460.0 115.4 L462.0 115.1 L464.0 114.6 L466.0 115.1 L468.0 114.5 L470.0 115.4 L472.0 115.6 L474.0 116.1 L476.0 117.3 L478.0 117.9 L480.0 117.0 L482.0 116.7 L484.0 115.7 L485.9 115.9 L487.9 116.8 L490.0 116.9 L491.5 116.5 L493.1 115.9 L494.7 116.1 L496.4 115.9 L498.0 115.4 L499.6 115.7 L501.3 115.1 L502.9 116.1 L504.5 116.3 L506.0 116.5 L508.1 116.7 L510.1 117.7 L512.0 118.0 L514.0 118.2 L516.0 117.4 L518.0 117.1 L520.0 116.9 L522.0 117.9 L524.0 118.4 L526.0 118.2 L528.1 119.1 L530.0 119.1 L531.9 118.8 L533.7 117.8 L535.0 118.0" fill="none" stroke="#2e3338" stroke-width="1.2" stroke-linejoin="round" stroke-linecap="round"/>
<path d="M320.0 132.4 L321.1 133.1 L322.5 131.7 L324.3 132.5 L326.1 132.3 L328.0 132.8 L329.6 132.2 L331.3 132.4 L333.0 132.5 L334.7 132.4 L336.4 131.9 L338.0 132.3 L339.8 131.9 L341.4 131.7 L343.0 130.7 L344.6 130.5 L346.0 130.3 L348.1 130.3 L350.1 131.2 L352.0 131.8 L353.9 132.7 L355.9 132.6 L358.0 133.1 L359.5 133.4 L361.1 132.7 L362.7 132.5 L364.4 132.3 L366.0 131.7 L367.6 131.5 L369.2 132.1 L370.8 131.7 L372.4 131.5 L374.0 131.1 L375.6 131.8 L377.2 132.4 L378.8 131.9 L380.4 132.3 L382.0 133.4 L383.6 134.0 L385.3 134.5 L386.9 134.2 L388.5 135.0 L390.0 134.7 L392.1 135.1 L394.1 134.3 L396.0 134.1 L398.0 134.1 L400.0 133.3 L402.0 132.9 L404.0 133.3 L406.0 133.8 L408.0 133.8 L410.0 134.0 L412.0 133.8 L414.0 133.6 L415.5 131.6 L417.0 131.0 L418.5 130.3 L420.0 130.7 L421.5 131.6 L423.1 131.4 L424.6 132.2 L426.0 133.4 L427.5 133.2 L428.7 135.3 L430.0 135.2 L431.9 137.8 L434.0 138.2 L435.9 137.8 L437.9 137.3 L440.0 136.2 L442.0 136.3 L444.0 135.4 L446.0 135.1 L448.0 135.7 L450.0 134.4 L452.0 134.7 L453.9 133.9 L455.9 134.4 L458.0 134.0 L459.5 133.3 L461.1 133.3 L462.7 133.1 L464.4 132.7 L466.0 132.0 L467.6 132.0 L469.2 132.6 L470.8 131.9 L472.4 132.6 L474.0 133.2 L475.6 133.3 L477.2 133.9 L478.8 134.0 L480.4 133.6 L482.0 133.8 L483.6 133.3 L485.2 134.0 L486.8 134.5 L488.4 134.6 L490.0 135.0 L491.6 135.6 L493.2 135.5 L494.8 136.1 L496.4 136.0 L498.0 137.4 L499.6 136.7 L501.2 136.5 L502.8 137.4 L504.4 137.0 L506.0 137.4 L507.6 136.8 L509.2 137.6 L510.8 137.0 L512.4 136.6 L514.0 136.4 L515.6 136.1 L517.2 136.2 L518.8 136.3 L520.4 135.1 L522.0 134.6 L523.6 135.0 L525.3 135.0 L527.0 133.8 L528.6 133.9 L530.0 133.6 L532.1 133.8 L533.8 133.4 L535.0 133.0" fill="none" stroke="#2e3338" stroke-width="1.2" stroke-linejoin="round" stroke-linecap="round"/>
<path d="M320.0 147.6 L321.1 147.3 L322.6 147.2 L324.4 147.9 L326.3 146.9 L328.0 147.8 L329.6 147.4 L331.2 148.0 L332.8 147.4 L334.4 146.5 L336.0 146.3 L337.6 145.9 L339.2 145.2 L340.8 145.0 L342.4 144.9 L344.0 143.8 L345.6 144.4 L347.3 145.3 L348.9 145.4 L350.5 145.3 L352.0 145.7 L354.1 146.3 L356.1 146.7 L358.0 148.4 L359.5 148.7 L361.0 149.1 L362.5 149.4 L364.0 150.3 L366.0 150.5 L368.0 151.3 L370.0 150.2 L371.5 150.0 L373.1 149.7 L374.6 148.8 L376.0 147.9 L377.7 146.6 L379.4 147.4 L381.0 147.2 L382.3 147.5 L383.6 148.6 L384.8 149.5 L386.0 150.7 L387.1 151.6 L388.1 153.6 L389.0 154.9 L390.0 156.1 L391.0 157.8 L392.1 159.4 L393.1 160.7 L394.0 161.3 L397.0 161.2 L397.7 160.3 L398.4 158.5 L399.2 157.1 L400.0 154.8 L400.9 153.1 L401.9 152.4 L403.0 150.4 L404.0 149.7 L406.0 148.8 L408.0 149.0 L409.9 149.7 L412.0 150.8 L413.3 150.9 L414.8 153.0 L416.3 153.0 L418.0 152.9 L419.5 153.7 L421.2 154.1 L422.9 154.7 L424.6 154.5 L426.0 156.2 L427.9 157.6 L429.5 157.9 L431.0 159.3 L432.4 160.4 L433.7 161.0 L435.0 162.5 L436.3 160.9 L437.7 160.2 L439.0 158.9 L440.0 158.2 L441.1 156.3 L442.1 154.8 L443.0 153.7 L446.0 155.0 L446.9 154.1 L447.9 153.0 L449.0 151.7 L450.0 150.3 L452.0 148.6 L454.0 147.9 L456.0 149.2 L458.0 149.1 L459.3 148.3 L460.7 147.7 L462.0 146.6 L464.0 144.9 L466.0 144.0 L467.9 144.2 L470.0 146.0 L471.4 146.3 L472.9 147.9 L474.5 148.5 L476.0 150.0 L477.5 151.4 L479.0 152.7 L480.5 154.0 L482.0 155.1 L483.5 155.4 L485.0 156.1 L486.5 157.0 L488.0 158.3 L489.9 158.2 L491.9 158.4 L494.0 158.8 L495.5 158.9 L497.1 159.1 L498.7 158.2 L500.4 158.3 L502.0 158.1 L503.6 158.0 L505.3 158.0 L506.9 158.7 L508.5 158.7 L510.0 159.2 L512.1 157.9 L514.1 158.2 L516.0 157.3 L518.0 156.6 L520.0 156.3 L522.0 155.2 L523.5 153.7 L524.9 153.7 L526.4 153.2 L528.0 152.1 L529.8 151.4 L531.9 151.4 L533.7 150.9 L535.0 150.4" fill="none" stroke="#2e3338" stroke-width="1.2" stroke-linejoin="round" stroke-linecap="round"/>
<path d="M320.0 167.6 L321.6 167.4 L324.0 167.5 L325.8 167.9 L327.8 168.5 L330.0 169.0 L331.5 169.2 L333.2 167.7 L334.8 167.6 L336.5 167.9 L338.0 167.1 L340.1 167.0 L342.1 167.6 L344.0 167.2 L346.0 167.6 L348.0 168.1 L350.0 168.5 L352.0 169.0 L354.0 168.8 L356.0 167.8 L358.0 167.0 L360.0 166.6 L362.0 166.2 L364.0 166.5 L366.0 166.6 L368.0 167.8 L370.0 167.5 L372.0 168.8 L374.0 168.7 L376.0 169.2 L378.0 170.4 L380.0 170.5 L382.1 169.7 L384.1 168.9 L386.0 168.5 L388.1 168.6 L390.0 170.0 L391.2 171.8 L392.6 172.1 L393.9 173.5 L395.0 174.5 L396.6 174.2 L398.0 172.3 L398.9 170.3 L399.8 169.0 L400.8 167.3 L402.0 165.5 L403.4 165.0 L405.0 163.9 L406.6 163.7 L408.0 163.2 L410.1 162.8 L412.0 164.0 L413.3 164.7 L414.5 165.7 L416.0 166.8 L417.4 168.1 L419.0 168.2 L420.6 168.4 L422.0 169.3 L424.1 170.7 L426.0 171.8 L427.6 171.1 L429.4 171.9 L431.0 172.3 L433.0 171.6 L435.0 172.1 L436.6 172.7 L438.3 173.9 L440.0 174.8 L441.3 173.0 L442.6 171.9 L443.8 170.3 L445.0 168.8 L447.0 169.0 L449.0 170.6 L450.6 170.1 L452.2 169.5 L454.0 168.6 L455.9 168.9 L458.0 168.4 L460.0 168.4 L461.5 167.6 L463.1 166.6 L464.6 165.7 L466.0 165.0 L467.8 163.9 L469.4 163.5 L471.0 163.1 L473.0 163.9 L475.0 165.4 L476.2 166.0 L477.4 166.8 L478.7 168.4 L480.0 169.6 L481.9 169.6 L484.0 170.7 L486.0 171.2 L487.9 171.5 L489.9 171.6 L492.0 171.6 L493.5 171.8 L495.2 172.8 L496.8 173.2 L498.5 172.3 L500.0 172.1 L502.1 173.2 L504.1 172.5 L506.0 172.2 L508.0 171.2 L510.0 171.1 L512.0 170.4 L514.0 170.3 L516.0 171.2 L518.0 171.9 L520.0 171.4 L522.0 170.9 L524.0 169.8 L525.5 169.7 L527.1 168.8 L528.6 168.6 L530.0 167.8 L531.9 167.1 L533.7 166.9 L535.0 166.4" fill="none" stroke="#2e3338" stroke-width="1.2" stroke-linejoin="round" stroke-linecap="round"/>
<path d="M320.0 185.6 L321.1 185.3 L322.5 185.9 L324.3 186.2 L326.1 185.5 L328.0 185.8 L329.6 184.9 L331.3 185.8 L333.0 185.7 L334.7 184.8 L336.4 185.8 L338.0 185.0 L339.7 184.2 L341.3 184.2 L342.9 184.8 L344.4 184.3 L346.0 184.8 L347.6 184.0 L349.2 184.8 L350.8 185.5 L352.4 185.2 L354.0 185.9 L355.6 185.5 L357.2 185.7 L358.8 185.6 L360.4 186.2 L362.0 184.7 L363.6 185.3 L365.3 185.2 L366.9 184.0 L368.5 184.2 L370.0 184.9 L372.1 184.1 L374.1 182.4 L376.0 183.5 L378.0 183.5 L380.1 185.0 L382.0 185.3 L383.8 186.1 L385.5 186.7 L387.0 187.7 L388.8 188.4 L390.4 188.7 L392.0 188.1 L394.0 187.2 L395.8 186.0 L397.9 186.1 L400.0 184.4 L402.0 184.4 L404.0 183.4 L406.0 183.6 L408.0 182.4 L410.0 182.2 L412.0 181.9 L413.9 183.4 L415.9 183.3 L418.0 183.2 L419.5 183.9 L421.2 184.2 L422.8 185.6 L424.5 185.7 L426.0 185.2 L428.1 186.8 L430.1 187.7 L432.0 187.6 L434.0 187.4 L436.0 186.5 L438.0 186.1 L440.0 185.8 L442.0 185.4 L444.0 185.7 L446.1 185.7 L448.1 185.7 L450.0 185.7 L452.2 186.8 L454.0 188.5 L455.4 189.6 L457.0 188.7 L458.5 188.8 L460.2 188.5 L462.0 187.3 L463.5 186.1 L465.1 186.1 L466.6 184.6 L468.0 184.1 L470.1 184.2 L472.0 182.8 L473.9 183.3 L476.0 183.8 L477.4 184.8 L478.9 185.7 L480.5 187.1 L482.0 187.3 L483.5 189.1 L484.9 189.3 L486.4 189.7 L488.0 190.2 L489.5 190.9 L491.1 191.3 L492.7 190.7 L494.4 191.5 L496.0 191.6 L497.6 191.6 L499.2 191.4 L500.8 190.9 L502.4 191.8 L504.0 191.4 L505.6 191.6 L507.2 190.6 L508.8 190.9 L510.4 190.8 L512.0 190.1 L513.6 190.3 L515.2 190.5 L516.8 189.7 L518.4 189.1 L520.0 189.9 L521.6 187.8 L523.2 187.9 L524.9 187.9 L526.5 187.2 L528.0 186.2 L530.0 186.7 L532.0 186.5 L533.8 185.5 L535.0 185.6" fill="none" stroke="#ef6674" stroke-width="1.2" stroke-linejoin="round" stroke-linecap="round"/>
<path d="M320.0 203.0 L321.1 203.6 L322.6 203.3 L324.4 203.5 L326.3 202.5 L328.0 203.0 L329.6 203.4 L331.2 203.3 L332.8 202.7 L334.4 201.9 L336.0 201.7 L337.6 201.0 L339.3 201.3 L340.9 200.2 L342.5 200.2 L344.0 199.2 L346.2 199.4 L348.1 200.7 L350.0 200.4 L351.7 201.2 L353.2 201.1 L355.0 202.4 L356.6 203.0 L358.3 201.2 L360.1 200.4 L362.0 200.9 L363.6 200.8 L365.2 201.0 L366.9 200.7 L368.5 200.9 L370.0 201.1 L372.1 202.2 L374.1 202.4 L376.0 203.3 L378.0 203.3 L380.0 204.6 L382.0 204.8 L384.0 205.5 L386.1 206.2 L388.0 206.0 L389.7 205.8 L391.4 205.0 L393.0 205.0 L394.6 204.3 L396.3 202.5 L398.0 201.6 L399.9 200.2 L402.0 199.8 L404.0 200.1 L406.0 200.4 L408.0 200.0 L410.0 199.8 L412.0 200.8 L414.0 201.2 L416.0 202.3 L418.1 203.6 L420.1 203.4 L422.0 203.5 L424.0 204.4 L426.0 204.3 L427.9 204.8 L429.9 205.0 L432.0 205.2 L434.0 204.1 L436.0 204.5 L438.0 204.3 L440.0 203.6 L442.0 204.2 L444.0 205.3 L446.1 205.6 L448.2 204.1 L450.0 203.9 L451.7 204.7 L453.0 206.3 L454.5 207.6 L456.0 208.8 L457.5 208.1 L459.0 206.2 L460.3 204.3 L462.0 202.5 L463.8 201.6 L465.9 201.8 L468.0 201.2 L470.0 200.6 L472.1 198.5 L474.0 199.4 L475.7 198.2 L477.4 199.7 L479.0 200.2 L480.2 201.3 L481.4 202.2 L482.7 203.4 L484.0 204.5 L485.9 205.4 L487.8 205.6 L490.0 205.5 L491.5 206.3 L493.1 206.9 L494.7 206.5 L496.4 207.0 L498.0 206.9 L499.7 206.8 L501.4 207.8 L503.1 208.2 L504.7 207.7 L506.0 208.0 L508.1 209.3 L510.0 209.1 L511.8 208.8 L513.8 208.8 L516.0 207.9 L517.5 207.1 L519.2 206.8 L520.8 206.9 L522.5 206.1 L524.0 206.2 L526.2 206.0 L528.1 205.0 L530.0 205.8 L531.9 205.5 L533.7 205.1 L535.0 204.4" fill="none" stroke="#ef6674" stroke-width="1.2" stroke-linejoin="round" stroke-linecap="round"/>
<path d="M320.0 220.4 L321.1 220.0 L322.6 220.2 L324.4 220.6 L326.3 220.5 L328.0 221.8 L329.6 220.5 L331.2 220.4 L332.8 220.3 L334.4 220.0 L336.0 220.1 L337.6 219.0 L339.3 219.5 L340.9 219.1 L342.5 218.5 L344.0 219.1 L346.1 218.9 L347.9 220.6 L350.0 220.1 L351.5 220.8 L353.1 220.8 L354.7 219.9 L356.4 219.7 L358.0 220.0 L359.6 219.7 L361.3 220.6 L362.9 220.6 L364.5 220.5 L366.0 220.7 L368.1 221.7 L370.1 221.4 L372.0 223.0 L374.0 222.3 L376.0 222.7 L378.0 222.7 L380.0 224.1 L382.0 224.4 L384.0 225.5 L385.6 226.4 L387.2 227.6 L388.8 229.6 L390.0 230.3 L392.4 231.8 L393.2 231.0 L394.1 229.7 L395.0 227.8 L396.0 225.9 L396.8 223.8 L397.6 223.4 L398.5 220.4 L399.3 218.4 L400.0 217.7 L401.4 217.3 L403.0 216.9 L404.6 216.5 L406.3 217.5 L408.0 218.4 L409.3 219.0 L410.6 221.4 L412.0 223.1 L413.4 224.4 L414.9 224.3 L416.5 224.6 L418.0 225.4 L419.9 226.6 L421.9 226.8 L424.0 227.1 L425.5 227.1 L427.2 227.0 L428.8 226.6 L430.5 227.3 L432.0 227.1 L434.1 226.9 L436.1 226.8 L438.0 225.5 L440.0 225.0 L442.0 225.1 L444.0 226.4 L446.1 224.8 L448.2 224.7 L450.0 224.4 L451.7 225.5 L453.0 228.2 L453.7 228.3 L454.3 230.3 L455.0 231.8 L455.6 233.1 L456.8 232.7 L458.0 229.6 L458.5 229.2 L459.0 227.4 L459.5 225.3 L460.0 223.2 L460.5 221.4 L461.0 219.4 L462.0 218.0 L462.9 215.8 L464.0 214.8 L465.8 214.7 L468.0 214.1 L469.9 214.4 L471.9 215.3 L474.0 216.3 L475.5 216.0 L477.0 217.6 L478.5 217.9 L480.0 219.1 L481.5 220.0 L483.0 220.1 L484.5 221.7 L486.0 222.7 L487.5 222.7 L488.9 223.4 L490.4 223.4 L492.0 225.1 L493.5 224.8 L495.2 224.6 L496.8 225.7 L498.5 225.2 L500.0 225.7 L502.1 225.6 L503.9 227.4 L506.0 227.8 L507.5 226.7 L509.1 226.5 L510.7 226.3 L512.4 226.1 L514.0 226.2 L515.6 226.2 L517.2 224.9 L518.8 225.0 L520.4 223.7 L522.0 224.6 L523.6 223.6 L525.3 223.0 L527.0 223.5 L528.6 222.6 L530.0 222.9 L532.1 222.6 L533.8 222.7 L535.0 222.0" fill="none" stroke="#ef6674" stroke-width="1.2" stroke-linejoin="round" stroke-linecap="round"/>
<path d="M320.0 232.0 L321.5 231.8 L323.6 232.2 L326.0 232.5 L327.5 232.5 L329.1 233.4 L330.7 232.8 L332.4 233.8 L334.0 234.1 L335.6 233.0 L337.2 233.6 L338.8 233.7 L340.4 234.0 L342.0 234.5 L343.6 234.5 L345.3 234.8 L346.9 234.9 L348.5 235.3 L350.0 235.8 L352.1 236.5 L354.1 236.6 L356.0 237.6 L357.5 237.9 L359.1 238.9 L360.6 239.0 L362.0 240.4 L364.0 240.3 L366.0 239.6 L367.9 238.8 L369.9 238.1 L372.0 237.3 L374.1 236.4 L376.1 236.9 L378.0 237.3 L380.2 235.6 L382.0 236.6 L382.8 238.3 L383.6 239.9 L384.3 240.7 L385.0 242.3 L385.7 244.9 L386.4 245.7 L387.0 248.8 L387.6 249.8 L388.1 251.9 L388.6 253.9 L389.1 255.5 L389.6 256.9 L391.6 257.9 L392.0 257.3 L392.5 255.2 L393.0 253.2 L393.5 250.9 L394.0 248.8 L394.4 247.2 L394.8 245.9 L395.2 245.0 L395.6 243.0 L396.1 241.1 L396.5 240.1 L397.0 238.4 L397.8 236.2 L398.6 234.2 L399.5 232.1 L400.3 231.2 L401.0 229.9 L403.0 229.0 L404.4 229.9 L406.0 232.7 L406.9 233.4 L407.9 235.1 L409.0 236.6 L410.0 237.8 L411.3 239.7 L412.5 241.2 L414.0 241.9 L415.4 243.2 L416.9 244.5 L418.5 244.9 L420.0 246.1 L421.5 246.5 L423.0 247.8 L424.5 248.0 L426.0 248.9 L428.0 248.3 L430.0 249.0 L432.0 247.9 L434.0 247.4 L436.0 247.0 L438.0 247.3 L440.0 246.5 L442.0 247.4 L444.0 246.9 L446.1 245.9 L448.3 244.3 L450.0 244.4 L452.0 245.7 L452.3 246.5 L452.7 249.0 L453.0 251.6 L453.4 252.4 L453.7 254.8 L454.0 256.5 L454.5 258.4 L455.1 260.9 L455.6 262.1 L456.2 261.4 L456.9 258.6 L457.6 256.1 L457.8 254.6 L458.1 253.4 L458.3 250.6 L458.6 249.2 L458.8 247.3 L459.1 245.4 L459.3 244.0 L459.6 241.8 L459.9 241.2 L460.2 238.0 L460.6 236.8 L460.9 235.1 L461.3 233.4 L461.6 231.4 L462.0 229.7 L462.6 227.9 L463.2 226.4 L463.8 224.6 L464.5 223.3 L465.0 222.2 L467.0 220.7 L468.4 221.6 L470.0 224.5 L470.7 225.0 L471.4 226.0 L472.2 228.9 L473.1 229.3 L474.0 230.6 L475.4 232.8 L476.9 233.3 L478.5 234.6 L480.0 236.4 L481.5 236.6 L483.0 238.6 L484.5 238.4 L486.0 240.0 L488.0 239.8 L490.0 240.4 L492.0 240.8 L493.9 241.5 L495.9 241.9 L498.0 242.4 L499.5 242.7 L501.1 241.8 L502.7 241.7 L504.4 241.0 L506.0 242.2 L507.6 241.3 L509.2 241.1 L510.8 240.8 L512.4 241.0 L514.0 240.5 L515.6 240.6 L517.2 240.2 L518.8 240.2 L520.4 240.1 L522.0 239.3 L523.6 240.1 L525.3 238.7 L527.0 238.4 L528.6 238.6 L530.0 238.0 L532.1 237.9 L533.8 237.9 L535.0 237.0" fill="none" stroke="#ef6674" stroke-width="1.2" stroke-linejoin="round" stroke-linecap="round"/>
<path d="M320.0 255.6 L321.1 256.1 L322.6 255.7 L324.4 254.9 L326.3 255.5 L328.0 254.1 L329.6 254.1 L331.2 254.1 L332.8 253.3 L334.4 253.1 L336.0 252.9 L337.6 253.7 L339.3 252.5 L340.9 254.3 L342.5 254.6 L344.0 254.4 L346.1 254.4 L347.9 253.4 L350.0 254.0 L351.5 255.0 L353.1 254.0 L354.7 255.4 L356.4 255.3 L358.0 255.5 L359.6 255.5 L361.2 255.6 L362.9 255.0 L364.5 254.8 L366.0 255.8 L367.9 255.0 L369.7 254.9 L371.4 254.5 L373.0 254.6 L374.7 254.3 L376.2 255.3 L378.0 256.6 L379.4 257.1 L381.1 256.5 L382.8 257.0 L384.5 257.0 L386.0 257.8 L388.1 258.0 L390.1 258.0 L392.0 257.8 L393.9 257.9 L395.9 257.4 L398.0 256.7 L399.5 256.9 L401.1 256.3 L402.7 256.7 L404.4 256.3 L406.0 255.7 L407.6 256.2 L409.2 256.0 L410.8 255.8 L412.4 255.9 L414.0 255.8 L415.7 256.2 L417.4 257.0 L419.1 257.6 L420.7 257.1 L422.0 257.7 L424.1 258.2 L426.0 258.9 L427.9 259.3 L429.9 260.2 L432.0 260.3 L434.0 259.3 L436.0 259.0 L438.0 257.5 L440.0 258.4 L442.0 258.7 L444.0 259.2 L446.0 259.2 L448.0 260.0 L450.0 260.5 L452.0 260.1 L454.0 260.7 L456.0 261.1 L458.0 260.6 L460.0 259.6 L462.0 259.3 L464.0 258.6 L466.0 259.7 L468.0 260.0 L470.0 259.7 L472.0 258.8 L474.0 258.3 L476.0 259.0 L478.0 259.5 L480.0 259.4 L481.9 259.5 L483.9 259.1 L486.0 258.8 L487.5 259.1 L489.1 260.1 L490.7 260.8 L492.4 261.7 L494.0 262.0 L495.6 261.9 L497.2 261.8 L498.8 260.9 L500.4 260.5 L502.0 259.5 L503.6 258.8 L505.2 259.9 L506.8 260.4 L508.4 260.2 L510.0 260.2 L511.6 259.9 L513.2 260.7 L514.8 260.0 L516.4 260.2 L518.0 260.4 L519.6 260.0 L521.2 260.5 L522.7 259.4 L524.3 259.6 L526.0 259.3 L527.9 258.5 L530.0 258.4 L532.0 257.9 L533.8 257.4 L535.0 257.6" fill="none" stroke="#2e3338" stroke-width="1.2" stroke-linejoin="round" stroke-linecap="round"/>
<path d="M320.0 273.6 L321.1 273.9 L322.6 273.7 L324.4 274.8 L326.3 274.1 L328.0 274.2 L329.6 274.3 L331.2 273.8 L332.8 273.6 L334.4 273.0 L336.0 272.5 L337.6 271.9 L339.2 272.2 L340.8 273.2 L342.4 272.7 L344.0 272.5 L345.6 272.1 L347.3 272.1 L348.9 272.2 L350.5 271.5 L352.0 271.7 L354.1 271.7 L355.9 272.7 L358.0 272.0 L359.5 273.0 L361.1 272.4 L362.7 273.8 L364.4 272.8 L366.0 273.0 L367.6 273.6 L369.2 273.6 L370.8 273.7 L372.4 273.1 L374.0 274.0 L375.6 274.4 L377.3 273.9 L378.9 273.9 L380.5 273.8 L382.0 274.8 L384.1 274.7 L386.1 274.9 L388.0 274.5 L390.0 275.7 L392.0 275.5 L394.0 275.0 L396.0 275.0 L398.1 273.4 L400.0 273.3 L401.7 271.8 L403.4 272.0 L405.0 270.9 L406.6 271.7 L408.3 271.7 L410.0 272.6 L412.0 273.4 L414.1 273.1 L416.0 273.6 L418.0 272.4 L420.0 272.3 L421.4 272.1 L422.9 272.9 L424.5 273.7 L426.0 274.8 L428.0 274.6 L430.0 275.4 L432.0 275.5 L434.0 275.3 L436.0 275.0 L438.0 274.9 L440.0 274.8 L442.0 273.9 L444.0 274.5 L446.0 274.0 L448.0 274.7 L450.0 275.9 L452.0 275.1 L454.0 275.9 L456.0 275.9 L457.5 275.9 L459.0 274.5 L460.5 273.1 L462.0 272.4 L464.0 272.2 L466.1 271.5 L468.0 271.4 L469.7 270.7 L471.4 271.4 L473.0 271.2 L474.6 272.8 L476.1 273.3 L478.0 273.7 L479.4 274.3 L481.0 275.0 L482.7 274.0 L484.4 273.9 L486.0 274.0 L487.6 274.0 L489.2 274.5 L490.8 274.7 L492.4 274.7 L494.0 275.1 L495.6 275.9 L497.2 276.0 L498.8 276.3 L500.4 276.4 L502.0 277.7 L503.6 277.3 L505.2 277.2 L506.8 277.1 L508.4 276.8 L510.0 275.8 L511.6 276.1 L513.2 276.6 L514.8 276.7 L516.4 277.4 L518.0 276.8 L519.6 276.1 L521.2 277.3 L522.7 276.0 L524.3 276.0 L526.0 276.1 L527.9 275.1 L530.0 275.7 L532.0 274.2 L533.8 273.6 L535.0 273.0" fill="none" stroke="#2e3338" stroke-width="1.2" stroke-linejoin="round" stroke-linecap="round"/>
<path d="M320.0 292.0 L321.1 291.7 L322.6 292.5 L324.4 291.6 L326.3 290.9 L328.0 291.5 L329.6 290.2 L331.2 290.5 L332.8 290.7 L334.4 290.6 L336.0 290.0 L337.6 290.9 L339.2 290.7 L340.8 289.7 L342.4 290.1 L344.0 289.8 L345.6 290.0 L347.2 290.8 L348.8 290.7 L350.4 290.8 L352.0 291.0 L353.6 290.5 L355.2 291.3 L356.8 290.3 L358.4 291.0 L360.0 290.2 L361.6 290.3 L363.2 291.1 L364.8 290.8 L366.4 290.6 L368.0 290.8 L369.6 291.3 L371.2 291.9 L372.8 291.5 L374.4 291.3 L376.0 291.2 L377.6 291.6 L379.3 292.0 L381.0 292.4 L382.6 292.4 L384.0 293.5 L385.9 293.4 L387.5 294.4 L389.0 295.8 L390.6 297.1 L392.2 298.1 L393.6 299.4 L395.3 297.7 L397.0 297.0 L398.3 295.8 L399.6 294.1 L401.0 292.0 L402.6 291.9 L404.3 290.6 L406.0 290.9 L407.7 290.6 L409.3 291.4 L411.0 292.2 L412.6 292.1 L414.3 293.6 L416.0 295.1 L418.0 293.6 L420.1 295.1 L422.0 295.4 L424.1 295.0 L426.0 295.1 L427.6 296.1 L429.4 296.4 L431.0 296.3 L433.0 297.6 L435.0 298.3 L436.6 297.9 L438.2 296.7 L440.0 296.0 L441.9 295.9 L444.0 293.5 L446.0 294.4 L448.0 293.9 L450.0 293.5 L452.0 293.0 L454.0 292.7 L456.0 292.5 L458.0 292.1 L460.0 291.2 L462.0 291.2 L464.0 290.1 L466.0 289.8 L468.1 289.1 L470.0 288.6 L471.7 289.6 L473.4 290.1 L475.0 290.6 L476.6 291.8 L478.1 292.3 L480.0 294.1 L481.4 294.2 L483.0 295.0 L484.7 294.3 L486.4 295.0 L488.0 294.6 L489.6 295.0 L491.3 295.5 L492.9 296.0 L494.5 296.5 L496.0 296.3 L498.1 297.4 L499.9 298.0 L502.0 297.7 L503.5 297.9 L505.1 297.4 L506.7 298.1 L508.4 297.0 L510.0 297.3 L511.6 297.2 L513.2 296.7 L514.8 296.5 L516.4 296.7 L518.0 296.1 L519.6 295.7 L521.2 295.6 L522.7 295.8 L524.3 295.4 L526.0 295.7 L527.9 293.9 L530.0 294.3 L532.0 293.2 L533.8 293.7 L535.0 293.0" fill="none" stroke="#2e3338" stroke-width="1.2" stroke-linejoin="round" stroke-linecap="round"/>
<path d="M320.0 304.0 L321.6 303.9 L323.8 303.2 L326.0 303.6 L328.0 303.3 L330.0 304.1 L332.0 304.6 L333.9 305.3 L335.9 305.9 L338.0 306.3 L339.5 306.3 L341.2 305.3 L342.8 304.7 L344.5 304.5 L346.0 304.2 L348.1 304.4 L350.1 304.9 L352.0 305.3 L353.5 306.1 L355.0 306.5 L356.5 307.3 L358.0 307.5 L359.5 308.9 L361.0 310.0 L362.5 310.8 L364.0 310.8 L366.0 310.5 L368.0 309.8 L370.0 309.2 L371.5 308.7 L373.0 308.1 L374.5 306.9 L376.0 307.3 L378.0 305.9 L380.1 305.9 L382.0 306.1 L383.3 307.4 L384.6 308.7 L385.8 309.0 L387.0 310.3 L388.1 311.5 L389.1 313.0 L390.0 314.5 L391.0 316.9 L392.0 317.3 L393.1 319.5 L394.1 320.8 L395.0 322.1 L396.5 321.2 L398.0 319.2 L398.6 317.4 L399.3 317.0 L399.9 314.6 L400.6 312.2 L401.3 311.5 L402.0 309.8 L403.3 307.8 L404.7 307.2 L406.0 306.2 L407.9 306.7 L410.0 307.4 L411.1 308.8 L412.3 309.6 L413.5 310.9 L414.8 312.1 L416.0 312.9 L417.5 313.8 L419.1 315.0 L420.6 315.7 L422.0 315.8 L424.1 317.1 L426.0 317.1 L427.9 317.2 L430.0 319.4 L431.6 320.2 L433.4 321.5 L435.0 321.7 L436.4 322.2 L437.7 320.1 L439.0 319.0 L440.0 317.4 L440.9 316.8 L441.9 314.9 L443.0 312.5 L444.2 311.7 L445.4 310.9 L446.7 309.7 L448.0 308.9 L449.4 307.8 L450.9 307.5 L452.5 306.3 L454.0 306.3 L455.5 306.2 L457.1 304.6 L458.6 304.7 L460.0 303.7 L461.7 302.6 L463.4 302.0 L465.0 301.6 L466.6 302.6 L468.3 303.9 L470.0 305.3 L471.4 306.0 L472.9 307.0 L474.5 308.8 L476.0 310.6 L477.5 311.2 L479.0 312.0 L480.5 312.1 L482.0 313.4 L484.0 314.4 L486.0 314.3 L488.0 315.5 L489.9 315.2 L491.9 315.5 L494.0 315.8 L495.5 315.8 L497.1 315.8 L498.7 314.8 L500.4 314.0 L502.0 314.4 L503.6 314.6 L505.2 315.2 L506.8 314.4 L508.4 315.5 L510.0 315.3 L511.6 315.0 L513.2 314.4 L514.8 314.1 L516.4 313.7 L518.0 313.9 L519.6 313.1 L521.2 312.8 L522.7 312.3 L524.3 311.0 L526.0 310.4 L527.9 310.7 L530.0 309.2 L532.0 309.2 L533.8 309.0 L535.0 309.0" fill="none" stroke="#2e3338" stroke-width="1.2" stroke-linejoin="round" stroke-linecap="round"/>
<path d="M320.0 327.6 C320.7 327.5 322.5 326.7 324.0 327.0 C325.5 327.3 327.3 329.5 329.0 329.6 C330.7 329.7 332.2 328.1 334.0 327.6 C335.8 327.1 338.0 326.8 340.0 326.4 C342.0 326.0 344.0 325.1 346.0 325.0 C348.0 324.9 350.0 325.8 352.0 326.0 C354.0 326.2 356.0 326.7 358.0 326.4 C360.0 326.1 362.3 325.0 364.0 324.4 C365.7 323.8 366.7 322.9 368.0 323.0 C369.3 323.1 370.3 324.2 372.0 325.0 C373.7 325.8 376.0 327.2 378.0 328.0 C380.0 328.8 382.0 329.3 384.0 329.6 C386.0 329.9 388.2 329.9 390.0 329.6 C391.8 329.3 393.3 328.6 395.0 328.0 C396.7 327.4 398.2 326.6 400.0 326.0 C401.8 325.4 404.0 324.6 406.0 324.4 C408.0 324.2 410.0 324.7 412.0 325.0 C414.0 325.3 415.7 325.9 418.0 326.4 C420.3 326.9 423.7 327.7 426.0 328.0 C428.3 328.3 430.0 328.4 432.0 328.4 C434.0 328.4 436.0 328.1 438.0 328.0 C440.0 327.9 442.0 327.6 444.0 327.6 C446.0 327.6 448.0 327.4 450.0 328.0 C452.0 328.6 454.3 330.9 456.0 331.0 C457.7 331.1 458.5 329.2 460.0 328.4 C461.5 327.6 463.0 326.7 465.0 326.0 C467.0 325.3 469.8 324.3 472.0 324.4 C474.2 324.5 476.0 325.6 478.0 326.4 C480.0 327.2 482.0 328.3 484.0 329.0 C486.0 329.7 487.7 330.1 490.0 330.4 C492.3 330.7 495.3 330.7 498.0 331.0 C500.7 331.3 503.3 331.9 506.0 332.0 C508.7 332.1 511.3 331.9 514.0 331.6 C516.7 331.3 519.3 330.5 522.0 330.0 C524.7 329.5 527.8 328.8 530.0 328.4 C532.2 328.0 534.2 327.7 535.0 327.6" fill="none" stroke="#3a3337" stroke-width="1.3" stroke-linejoin="round"/>
<path d="M320.0 327.6 C320.7 327.5 322.5 326.7 324.0 327.0 C325.5 327.3 327.3 329.5 329.0 329.6 C330.7 329.7 332.2 328.1 334.0 327.6 C335.8 327.1 338.0 326.8 340.0 326.4 C342.0 326.0 344.0 325.1 346.0 325.0 C348.0 324.9 350.0 325.8 352.0 326.0 C354.0 326.2 356.0 326.7 358.0 326.4 C360.0 326.1 362.3 325.0 364.0 324.4 C365.7 323.8 366.7 322.9 368.0 323.0 C369.3 323.1 370.3 324.2 372.0 325.0 C373.7 325.8 376.0 327.2 378.0 328.0 C380.0 328.8 382.0 329.3 384.0 329.6 C386.0 329.9 388.2 329.9 390.0 329.6 C391.8 329.3 393.3 328.6 395.0 328.0 C396.7 327.4 398.2 326.6 400.0 326.0 C401.8 325.4 404.0 324.6 406.0 324.4 C408.0 324.2 410.0 324.7 412.0 325.0 C414.0 325.3 415.7 325.9 418.0 326.4 C420.3 326.9 423.7 327.7 426.0 328.0 C428.3 328.3 430.0 328.4 432.0 328.4 C434.0 328.4 436.0 328.1 438.0 328.0 C440.0 327.9 442.0 327.6 444.0 327.6 C446.0 327.6 448.0 327.4 450.0 328.0 C452.0 328.6 454.3 330.9 456.0 331.0 C457.7 331.1 458.5 329.2 460.0 328.4 C461.5 327.6 463.0 326.7 465.0 326.0 C467.0 325.3 469.8 324.3 472.0 324.4 C474.2 324.5 476.0 325.6 478.0 326.4 C480.0 327.2 482.0 328.3 484.0 329.0 C486.0 329.7 487.7 330.1 490.0 330.4 C492.3 330.7 495.3 330.7 498.0 331.0 C500.7 331.3 503.3 331.9 506.0 332.0 C508.7 332.1 511.3 331.9 514.0 331.6 C516.7 331.3 519.3 330.5 522.0 330.0 C524.7 329.5 527.8 328.8 530.0 328.4 C532.2 328.0 534.2 327.7 535.0 327.6" fill="none" stroke="#ef6674" stroke-width="1.1" stroke-dasharray="2.2 1.8" stroke-linejoin="round" transform="translate(0.2,0.35)"/>
<path d="M320.0 344.4 C321.0 344.3 324.0 343.9 326.0 343.6 C328.0 343.3 330.0 342.5 332.0 342.4 C334.0 342.3 335.7 342.9 338.0 343.0 C340.3 343.1 343.3 342.9 346.0 343.0 C348.7 343.1 351.3 343.5 354.0 343.6 C356.7 343.7 359.3 343.4 362.0 343.6 C364.7 343.8 367.7 344.6 370.0 345.0 C372.3 345.4 374.0 345.5 376.0 346.0 C378.0 346.5 380.0 347.2 382.0 348.0 C384.0 348.8 386.3 350.3 388.0 351.0 C389.7 351.7 390.7 352.7 392.0 352.4 C393.3 352.1 394.7 350.4 396.0 349.0 C397.3 347.6 398.7 345.2 400.0 344.0 C401.3 342.8 402.7 342.1 404.0 342.0 C405.3 341.9 406.7 342.8 408.0 343.6 C409.3 344.4 410.3 346.1 412.0 347.0 C413.7 347.9 415.7 348.8 418.0 349.0 C420.3 349.2 423.7 348.3 426.0 348.5 C428.3 348.7 430.0 350.0 432.0 350.0 C434.0 350.0 436.0 348.8 438.0 348.4 C440.0 348.0 442.0 348.0 444.0 347.6 C446.0 347.2 448.0 345.8 450.0 346.0 C452.0 346.2 454.3 349.0 456.0 349.0 C457.7 349.0 458.5 347.2 460.0 346.0 C461.5 344.8 463.2 342.8 465.0 341.6 C466.8 340.4 469.0 339.0 471.0 339.0 C473.0 339.0 475.0 340.8 477.0 341.6 C479.0 342.4 480.8 343.4 483.0 344.0 C485.2 344.6 487.8 344.4 490.0 345.0 C492.2 345.6 494.0 346.8 496.0 347.6 C498.0 348.4 499.7 349.7 502.0 350.0 C504.3 350.3 507.3 349.9 510.0 349.6 C512.7 349.3 515.3 348.6 518.0 348.4 C520.7 348.2 523.2 349.0 526.0 348.4 C528.8 347.8 533.5 345.6 535.0 345.0" fill="none" stroke="#3a3337" stroke-width="1.3" stroke-linejoin="round"/>
<path d="M320.0 344.4 C321.0 344.3 324.0 343.9 326.0 343.6 C328.0 343.3 330.0 342.5 332.0 342.4 C334.0 342.3 335.7 342.9 338.0 343.0 C340.3 343.1 343.3 342.9 346.0 343.0 C348.7 343.1 351.3 343.5 354.0 343.6 C356.7 343.7 359.3 343.4 362.0 343.6 C364.7 343.8 367.7 344.6 370.0 345.0 C372.3 345.4 374.0 345.5 376.0 346.0 C378.0 346.5 380.0 347.2 382.0 348.0 C384.0 348.8 386.3 350.3 388.0 351.0 C389.7 351.7 390.7 352.7 392.0 352.4 C393.3 352.1 394.7 350.4 396.0 349.0 C397.3 347.6 398.7 345.2 400.0 344.0 C401.3 342.8 402.7 342.1 404.0 342.0 C405.3 341.9 406.7 342.8 408.0 343.6 C409.3 344.4 410.3 346.1 412.0 347.0 C413.7 347.9 415.7 348.8 418.0 349.0 C420.3 349.2 423.7 348.3 426.0 348.5 C428.3 348.7 430.0 350.0 432.0 350.0 C434.0 350.0 436.0 348.8 438.0 348.4 C440.0 348.0 442.0 348.0 444.0 347.6 C446.0 347.2 448.0 345.8 450.0 346.0 C452.0 346.2 454.3 349.0 456.0 349.0 C457.7 349.0 458.5 347.2 460.0 346.0 C461.5 344.8 463.2 342.8 465.0 341.6 C466.8 340.4 469.0 339.0 471.0 339.0 C473.0 339.0 475.0 340.8 477.0 341.6 C479.0 342.4 480.8 343.4 483.0 344.0 C485.2 344.6 487.8 344.4 490.0 345.0 C492.2 345.6 494.0 346.8 496.0 347.6 C498.0 348.4 499.7 349.7 502.0 350.0 C504.3 350.3 507.3 349.9 510.0 349.6 C512.7 349.3 515.3 348.6 518.0 348.4 C520.7 348.2 523.2 349.0 526.0 348.4 C528.8 347.8 533.5 345.6 535.0 345.0" fill="none" stroke="#ef6674" stroke-width="1.1" stroke-dasharray="2.2 1.8" stroke-linejoin="round" transform="translate(0.2,0.35)"/>
<path d="M320.0 362.0 L321.6 361.5 L323.8 361.3 L326.0 360.7 L328.0 361.5 L330.0 360.8 L332.0 361.3 L334.0 361.5 L336.0 362.2 L338.0 363.2 L340.0 363.1 L342.0 362.4 L344.0 362.3 L345.9 361.8 L347.9 361.0 L350.0 361.0 L351.5 361.2 L353.2 361.9 L354.8 361.2 L356.5 361.7 L358.0 361.8 L360.1 362.0 L362.1 361.5 L364.0 361.4 L366.0 360.1 L368.0 359.8 L370.0 358.9 L372.0 359.7 L374.0 360.9 L376.0 360.5 L378.0 360.9 L380.1 361.5 L382.0 361.7 L383.8 360.8 L385.5 360.5 L387.0 359.9 L388.8 358.2 L390.4 356.7 L391.6 357.8 L392.8 359.1 L394.0 360.5 L395.3 362.3 L396.7 363.8 L398.0 365.3 L399.9 364.8 L402.0 363.2 L403.9 362.4 L405.9 361.8 L408.0 361.0 L410.0 361.2 L412.0 361.8 L414.0 361.4 L416.0 360.6 L418.0 360.0 L420.0 360.0 L421.5 360.7 L423.1 361.3 L424.6 362.4 L426.0 362.7 L428.1 364.3 L430.0 364.9 L431.6 365.1 L433.3 363.5 L435.0 363.5 L436.2 362.1 L437.5 360.8 L438.8 359.9 L440.0 359.0 L441.7 357.9 L443.5 357.3 L445.0 356.8 L446.1 357.7 L447.1 360.6 L448.0 361.6 L449.4 361.4 L451.0 359.1 L452.3 356.9 L453.6 356.7 L455.0 355.3 L456.3 356.4 L457.6 358.4 L459.0 359.4 L460.2 359.6 L461.4 361.1 L462.7 361.5 L464.0 363.3 L465.9 364.2 L468.0 364.3 L470.0 365.2 L472.0 364.9 L474.0 364.0 L476.0 362.8 L477.9 362.3 L479.7 361.9 L482.0 361.5 L483.5 361.9 L485.2 361.6 L487.0 361.9 L488.8 361.3 L490.5 361.0 L492.0 360.5 L494.2 361.6 L496.0 361.4 L498.0 361.6 L499.5 361.4 L501.1 361.5 L502.7 362.3 L504.4 361.9 L506.0 362.6 L507.6 362.9 L509.2 362.8 L510.8 362.6 L512.4 363.6 L514.0 364.1 L515.6 363.2 L517.3 362.9 L518.9 363.5 L520.5 363.0 L522.0 362.8 L523.6 364.0 L525.1 364.2 L526.5 365.3 L528.0 365.5 L529.8 365.4 L531.9 365.5 L533.7 364.9 L535.0 365.0" fill="none" stroke="#2e3338" stroke-width="1.2" stroke-linejoin="round" stroke-linecap="round"/>
<path d="M320.0 377.6 L321.6 376.3 L324.0 374.9 L325.4 374.3 L326.9 373.4 L328.5 372.6 L330.0 371.7 L331.8 371.0 L333.4 370.2 L335.0 369.9 L337.1 370.8 L339.0 372.3 L340.0 373.7 L341.0 375.0 L342.0 376.7 L343.0 377.9 L344.3 379.5 L345.6 381.0 L347.0 382.0 L348.6 382.9 L350.2 383.8 L352.0 384.5 L353.9 384.8 L355.8 384.8 L358.0 384.8 L359.4 384.8 L361.0 385.0 L362.6 384.7 L364.2 384.6 L366.0 384.5 L367.6 384.3 L369.2 384.2 L370.9 383.9 L372.6 383.7 L374.3 383.8 L376.0 383.6 L377.7 383.6 L379.3 383.3 L381.0 383.3 L382.7 383.4 L384.3 383.0 L386.0 383.0 L387.6 383.1 L389.2 382.8 L390.8 382.7 L392.4 382.3 L394.1 382.6 L396.0 382.3 L397.5 382.5 L399.2 382.3 L400.9 382.2 L402.6 382.2 L404.4 382.1 L406.3 382.0 L408.1 382.2 L410.0 382.1 L411.5 382.0 L413.2 382.0 L414.8 382.0 L416.5 381.9 L418.2 381.8 L419.9 381.7 L421.6 381.7 L423.2 381.7 L424.6 381.6 L426.0 381.4 L428.0 381.4 L429.8 381.3 L431.4 381.1 L432.9 381.1 L434.4 381.1 L436.0 381.0 L437.7 381.0 L439.3 381.2 L441.0 381.3 L442.7 381.6 L444.3 381.5 L446.0 381.4 L447.7 381.4 L449.3 381.5 L451.0 381.3 L452.7 381.1 L454.3 380.9 L456.0 381.0 L457.7 380.9 L459.3 381.0 L461.0 381.2 L462.7 381.3 L464.3 381.5 L466.0 381.5 L467.7 381.7 L469.6 381.8 L471.4 382.1 L473.1 382.2 L474.7 382.2 L476.0 381.9 L478.4 381.5 L480.0 380.1 L480.7 378.9 L481.3 377.2 L481.9 375.8 L482.5 373.9 L483.0 372.1 L483.3 370.5 L483.7 368.6 L483.9 367.0 L484.2 364.8 L484.5 363.2 L484.7 361.3 L485.0 360.0 L485.8 357.2 L486.6 355.9 L487.3 356.7 L488.0 360.2 L488.2 361.1 L488.3 362.6 L488.5 363.9 L488.6 366.0 L488.8 367.7 L489.0 369.4 L489.1 371.3 L489.3 372.9 L489.4 374.5 L489.6 375.8 L489.8 378.3 L490.1 380.6 L490.3 382.5 L490.5 384.4 L490.8 385.9 L491.0 386.9 L492.6 387.9 L493.1 386.7 L493.7 384.7 L494.4 383.1 L495.8 381.7 L498.0 380.9 L499.3 380.8 L500.9 380.6 L502.6 380.4 L504.3 380.4 L506.0 380.3 L507.6 380.2 L509.3 380.2 L510.9 380.3 L512.5 380.4 L514.0 380.2 L516.1 379.6 L518.1 379.3 L520.0 378.6 L521.5 378.1 L523.1 377.3 L524.6 376.7 L526.0 375.8 L527.8 375.2 L529.5 373.8 L531.0 373.1 L533.1 371.9 L534.5 371.3" fill="none" stroke="#2e3338" stroke-width="1.2" stroke-linejoin="round" stroke-linecap="round"/>
</svg></body></html>
